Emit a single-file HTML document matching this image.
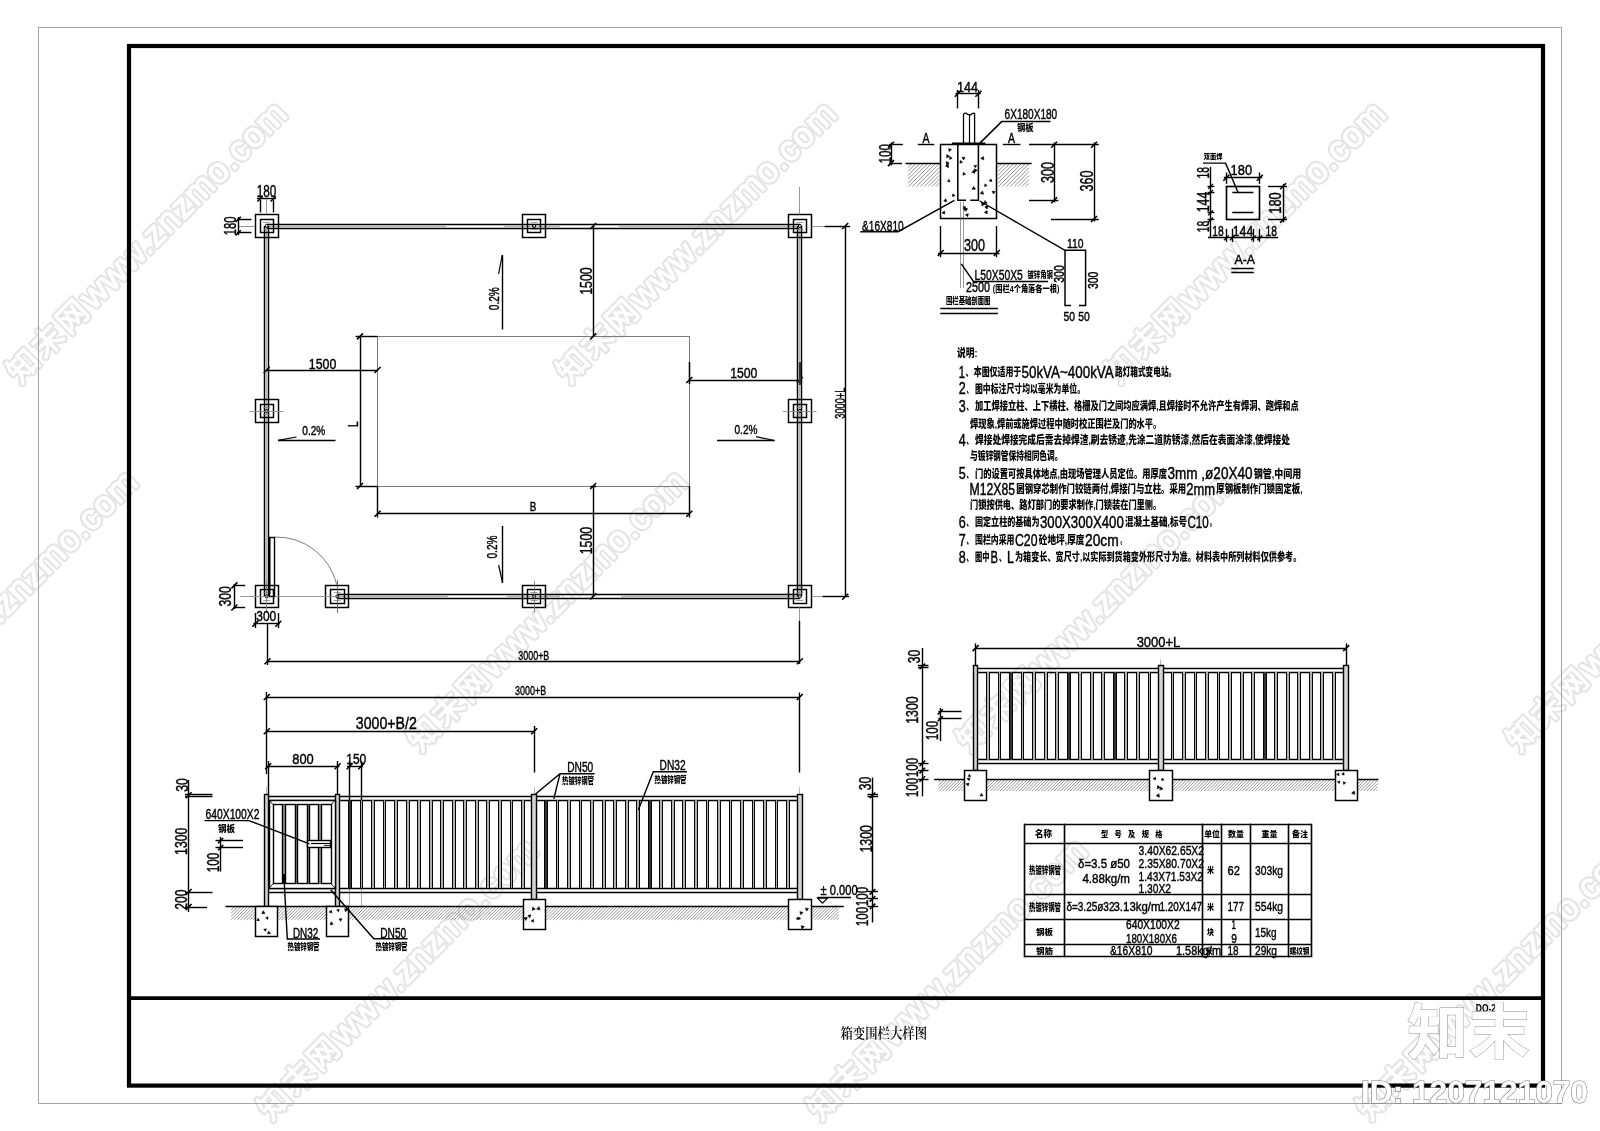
<!DOCTYPE html>
<html lang="zh"><head><meta charset="utf-8"><title>箱变围栏大样图</title>
<style>html,body{margin:0;padding:0;background:#fff}body{width:1600px;height:1131px;overflow:hidden}svg{display:block;will-change:transform}text{white-space:pre}</style>
</head><body>
<svg width="1600" height="1131" viewBox="0 0 1600 1131">
<rect width="1600" height="1131" fill="#fff"/>
<g id="wm" font-family="&quot;Liberation Sans&quot;, &quot;Noto Sans CJK SC&quot;, sans-serif" font-weight="400" stroke-linejoin="round">
<g fill="#e4e4e4" stroke="#e4e4e4" stroke-width="5.2">
<text transform="translate(20 384.4) rotate(-45)"><tspan font-size="31" letter-spacing="3.7">知末网</tspan><tspan font-size="34.7" letter-spacing="1.3">www.znzmo.com</tspan></text>
<text transform="translate(569.5 384.4) rotate(-45)"><tspan font-size="31" letter-spacing="3.7">知末网</tspan><tspan font-size="34.7" letter-spacing="1.3">www.znzmo.com</tspan></text>
<text transform="translate(1119 384.4) rotate(-45)"><tspan font-size="31" letter-spacing="3.7">知末网</tspan><tspan font-size="34.7" letter-spacing="1.3">www.znzmo.com</tspan></text>
<text transform="translate(-129 752.9) rotate(-45)"><tspan font-size="31" letter-spacing="3.7">知末网</tspan><tspan font-size="34.7" letter-spacing="1.3">www.znzmo.com</tspan></text>
<text transform="translate(420.4 752.9) rotate(-45)"><tspan font-size="31" letter-spacing="3.7">知末网</tspan><tspan font-size="34.7" letter-spacing="1.3">www.znzmo.com</tspan></text>
<text transform="translate(970 752.9) rotate(-45)"><tspan font-size="31" letter-spacing="3.7">知末网</tspan><tspan font-size="34.7" letter-spacing="1.3">www.znzmo.com</tspan></text>
<text transform="translate(1519.5 752.9) rotate(-45)"><tspan font-size="31" letter-spacing="3.7">知末网</tspan><tspan font-size="34.7" letter-spacing="1.3">www.znzmo.com</tspan></text>
<text transform="translate(-278.5 1121.4) rotate(-45)"><tspan font-size="31" letter-spacing="3.7">知末网</tspan><tspan font-size="34.7" letter-spacing="1.3">www.znzmo.com</tspan></text>
<text transform="translate(271 1121.4) rotate(-45)"><tspan font-size="31" letter-spacing="3.7">知末网</tspan><tspan font-size="34.7" letter-spacing="1.3">www.znzmo.com</tspan></text>
<text transform="translate(820.5 1121.4) rotate(-45)"><tspan font-size="31" letter-spacing="3.7">知末网</tspan><tspan font-size="34.7" letter-spacing="1.3">www.znzmo.com</tspan></text>
<text transform="translate(1370 1121.4) rotate(-45)"><tspan font-size="31" letter-spacing="3.7">知末网</tspan><tspan font-size="34.7" letter-spacing="1.3">www.znzmo.com</tspan></text>
</g><g fill="#fff" stroke="#fff" stroke-width="1.1">
<text transform="translate(20 384.4) rotate(-45)"><tspan font-size="31" letter-spacing="3.7">知末网</tspan><tspan font-size="34.7" letter-spacing="1.3">www.znzmo.com</tspan></text>
<text transform="translate(569.5 384.4) rotate(-45)"><tspan font-size="31" letter-spacing="3.7">知末网</tspan><tspan font-size="34.7" letter-spacing="1.3">www.znzmo.com</tspan></text>
<text transform="translate(1119 384.4) rotate(-45)"><tspan font-size="31" letter-spacing="3.7">知末网</tspan><tspan font-size="34.7" letter-spacing="1.3">www.znzmo.com</tspan></text>
<text transform="translate(-129 752.9) rotate(-45)"><tspan font-size="31" letter-spacing="3.7">知末网</tspan><tspan font-size="34.7" letter-spacing="1.3">www.znzmo.com</tspan></text>
<text transform="translate(420.4 752.9) rotate(-45)"><tspan font-size="31" letter-spacing="3.7">知末网</tspan><tspan font-size="34.7" letter-spacing="1.3">www.znzmo.com</tspan></text>
<text transform="translate(970 752.9) rotate(-45)"><tspan font-size="31" letter-spacing="3.7">知末网</tspan><tspan font-size="34.7" letter-spacing="1.3">www.znzmo.com</tspan></text>
<text transform="translate(1519.5 752.9) rotate(-45)"><tspan font-size="31" letter-spacing="3.7">知末网</tspan><tspan font-size="34.7" letter-spacing="1.3">www.znzmo.com</tspan></text>
<text transform="translate(-278.5 1121.4) rotate(-45)"><tspan font-size="31" letter-spacing="3.7">知末网</tspan><tspan font-size="34.7" letter-spacing="1.3">www.znzmo.com</tspan></text>
<text transform="translate(271 1121.4) rotate(-45)"><tspan font-size="31" letter-spacing="3.7">知末网</tspan><tspan font-size="34.7" letter-spacing="1.3">www.znzmo.com</tspan></text>
<text transform="translate(820.5 1121.4) rotate(-45)"><tspan font-size="31" letter-spacing="3.7">知末网</tspan><tspan font-size="34.7" letter-spacing="1.3">www.znzmo.com</tspan></text>
<text transform="translate(1370 1121.4) rotate(-45)"><tspan font-size="31" letter-spacing="3.7">知末网</tspan><tspan font-size="34.7" letter-spacing="1.3">www.znzmo.com</tspan></text>
</g></g>
<g id="frame">
<rect x="38.5" y="27.5" width="1523" height="1076" fill="none" stroke="#9a9a9a" stroke-width="0.9"/>
<rect x="129" y="46" width="1414" height="1039.6" fill="none" stroke="#000" stroke-width="4.2"/>
<line x1="129" y1="998.1" x2="1543" y2="998.1" stroke="#000" stroke-width="3.8"/>
</g>
<g id="plan">
<line x1="266.7" y1="224.5" x2="799.8" y2="224.5" stroke="#000" stroke-width="1.47"/>
<line x1="266.7" y1="228.5" x2="799.8" y2="228.5" stroke="#000" stroke-width="1.47"/>
<line x1="266.7" y1="226.5" x2="446" y2="226.5" stroke="#b4b4b4" stroke-width="1.6"/>
<line x1="504" y1="226.5" x2="560" y2="226.5" stroke="#b4b4b4" stroke-width="1.6"/>
<line x1="619" y1="226.5" x2="799.8" y2="226.5" stroke="#b4b4b4" stroke-width="1.6"/>
<line x1="337.3" y1="594.5" x2="799.8" y2="594.5" stroke="#000" stroke-width="1.47"/>
<line x1="337.3" y1="598.5" x2="799.8" y2="598.5" stroke="#000" stroke-width="1.47"/>
<line x1="337.3" y1="596.5" x2="448" y2="596.5" stroke="#b4b4b4" stroke-width="1.6"/>
<line x1="507" y1="596.5" x2="560" y2="596.5" stroke="#b4b4b4" stroke-width="1.6"/>
<line x1="621" y1="596.5" x2="799.8" y2="596.5" stroke="#b4b4b4" stroke-width="1.6"/>
<line x1="264.5" y1="226" x2="264.5" y2="596.4" stroke="#000" stroke-width="1.47"/>
<line x1="268.5" y1="226" x2="268.5" y2="596.4" stroke="#000" stroke-width="1.47"/>
<line x1="266.5" y1="226" x2="266.5" y2="596.4" stroke="#b4b4b4" stroke-width="1.6"/>
<line x1="797.5" y1="226" x2="797.5" y2="596.4" stroke="#000" stroke-width="1.47"/>
<line x1="801.5" y1="226" x2="801.5" y2="596.4" stroke="#000" stroke-width="1.47"/>
<line x1="799.5" y1="226" x2="799.5" y2="596.4" stroke="#b4b4b4" stroke-width="1.6"/>
<rect x="255.5" y="214.5" width="23" height="23" fill="none" stroke="#000" stroke-width="1.47"/>
<rect x="260.5" y="219.5" width="13" height="13" fill="none" stroke="#000" stroke-width="1.47"/>
<circle cx="266.7" cy="226" r="1.6" fill="none" stroke="#000" stroke-width="1"/>
<line x1="263.2" y1="222.5" x2="270.2" y2="222.5" stroke="#777" stroke-width="0.7"/>
<line x1="263.2" y1="229.5" x2="270.2" y2="229.5" stroke="#777" stroke-width="0.7"/>
<rect x="522.5" y="214.5" width="23" height="23" fill="none" stroke="#000" stroke-width="1.47"/>
<rect x="527.5" y="219.5" width="13" height="13" fill="none" stroke="#000" stroke-width="1.47"/>
<circle cx="534.1" cy="226" r="1.6" fill="none" stroke="#000" stroke-width="1"/>
<line x1="530.6" y1="222.5" x2="537.6" y2="222.5" stroke="#777" stroke-width="0.7"/>
<line x1="530.6" y1="229.5" x2="537.6" y2="229.5" stroke="#777" stroke-width="0.7"/>
<rect x="788.5" y="214.5" width="23" height="23" fill="none" stroke="#000" stroke-width="1.47"/>
<rect x="793.5" y="219.5" width="13" height="13" fill="none" stroke="#000" stroke-width="1.47"/>
<circle cx="799.8" cy="226" r="1.6" fill="none" stroke="#000" stroke-width="1"/>
<line x1="796.3" y1="222.5" x2="803.3" y2="222.5" stroke="#777" stroke-width="0.7"/>
<line x1="796.3" y1="229.5" x2="803.3" y2="229.5" stroke="#777" stroke-width="0.7"/>
<rect x="255.5" y="399.5" width="23" height="23" fill="none" stroke="#000" stroke-width="1.47"/>
<rect x="260.5" y="404.5" width="13" height="13" fill="none" stroke="#000" stroke-width="1.47"/>
<circle cx="266.7" cy="411" r="1.6" fill="none" stroke="#000" stroke-width="1"/>
<line x1="263.2" y1="407.5" x2="270.2" y2="407.5" stroke="#777" stroke-width="0.7"/>
<line x1="263.2" y1="414.5" x2="270.2" y2="414.5" stroke="#777" stroke-width="0.7"/>
<rect x="788.5" y="399.5" width="23" height="23" fill="none" stroke="#000" stroke-width="1.47"/>
<rect x="793.5" y="404.5" width="13" height="13" fill="none" stroke="#000" stroke-width="1.47"/>
<circle cx="799.8" cy="411" r="1.6" fill="none" stroke="#000" stroke-width="1"/>
<line x1="796.3" y1="407.5" x2="803.3" y2="407.5" stroke="#777" stroke-width="0.7"/>
<line x1="796.3" y1="414.5" x2="803.3" y2="414.5" stroke="#777" stroke-width="0.7"/>
<rect x="255.5" y="585.5" width="23" height="22" fill="none" stroke="#000" stroke-width="1.47"/>
<rect x="260.5" y="589.5" width="13" height="14" fill="none" stroke="#000" stroke-width="1.47"/>
<circle cx="266.7" cy="596.4" r="1.6" fill="none" stroke="#000" stroke-width="1"/>
<line x1="263.2" y1="592.5" x2="270.2" y2="592.5" stroke="#777" stroke-width="0.7"/>
<line x1="263.2" y1="600.5" x2="270.2" y2="600.5" stroke="#777" stroke-width="0.7"/>
<rect x="325.5" y="585.5" width="23" height="22" fill="none" stroke="#000" stroke-width="1.47"/>
<rect x="330.5" y="589.5" width="14" height="14" fill="none" stroke="#000" stroke-width="1.47"/>
<circle cx="337.3" cy="596.4" r="1.6" fill="none" stroke="#000" stroke-width="1"/>
<line x1="333.8" y1="592.5" x2="340.8" y2="592.5" stroke="#777" stroke-width="0.7"/>
<line x1="333.8" y1="600.5" x2="340.8" y2="600.5" stroke="#777" stroke-width="0.7"/>
<rect x="522.5" y="585.5" width="23" height="22" fill="none" stroke="#000" stroke-width="1.47"/>
<rect x="527.5" y="589.5" width="13" height="14" fill="none" stroke="#000" stroke-width="1.47"/>
<circle cx="534.1" cy="596.4" r="1.6" fill="none" stroke="#000" stroke-width="1"/>
<line x1="530.6" y1="592.5" x2="537.6" y2="592.5" stroke="#777" stroke-width="0.7"/>
<line x1="530.6" y1="600.5" x2="537.6" y2="600.5" stroke="#777" stroke-width="0.7"/>
<rect x="788.5" y="585.5" width="23" height="22" fill="none" stroke="#000" stroke-width="1.47"/>
<rect x="793.5" y="589.5" width="13" height="14" fill="none" stroke="#000" stroke-width="1.47"/>
<circle cx="799.8" cy="596.4" r="1.6" fill="none" stroke="#000" stroke-width="1"/>
<line x1="796.3" y1="592.5" x2="803.3" y2="592.5" stroke="#777" stroke-width="0.7"/>
<line x1="796.3" y1="600.5" x2="803.3" y2="600.5" stroke="#777" stroke-width="0.7"/>
<line x1="249.5" y1="411.5" x2="283.5" y2="411.5" stroke="#8c8c8c" stroke-width="0.9"/>
<line x1="782.8" y1="411.5" x2="816.5" y2="411.5" stroke="#8c8c8c" stroke-width="0.9"/>
<line x1="799.5" y1="187" x2="799.5" y2="214.5" stroke="#8c8c8c" stroke-width="0.9"/>
<line x1="811.5" y1="226.5" x2="824.5" y2="226.5" stroke="#8c8c8c" stroke-width="0.9"/>
<line x1="266.5" y1="199.5" x2="266.5" y2="214" stroke="#8c8c8c" stroke-width="0.9"/>
<line x1="239" y1="226.5" x2="255" y2="226.5" stroke="#8c8c8c" stroke-width="0.9"/>
<line x1="240" y1="596.5" x2="337.3" y2="596.5" stroke="#8c8c8c" stroke-width="0.9"/>
<line x1="337.5" y1="580" x2="337.5" y2="613" stroke="#555" stroke-width="0.8"/>
<line x1="534.5" y1="581" x2="534.5" y2="613" stroke="#777" stroke-width="0.8"/>
<line x1="266.5" y1="581" x2="266.5" y2="613" stroke="#777" stroke-width="0.8"/>
<line x1="799.5" y1="607.5" x2="799.5" y2="621" stroke="#8c8c8c" stroke-width="0.9"/>
<line x1="811.5" y1="596.5" x2="822.5" y2="596.5" stroke="#8c8c8c" stroke-width="0.9"/>
<rect x="377.5" y="336.5" width="312" height="150" fill="none" stroke="#7a7a7a" stroke-width="1"/>
<rect x="269.5" y="537.5" width="5" height="59" fill="none" stroke="#000" stroke-width="1.42"/>
<line x1="269.5" y1="537" x2="269.5" y2="594" stroke="#000" stroke-width="1.8"/>
<path d="M274.9 537 A62 62 0 0 1 336.9 585" fill="none" stroke="#444" stroke-width="0.7"/>
<line x1="257" y1="198.5" x2="276" y2="198.5" stroke="#000" stroke-width="1.42"/>
<line x1="260.5" y1="199.8" x2="260.5" y2="212.4" stroke="#000" stroke-width="1.42"/>
<line x1="273.5" y1="199.8" x2="273.5" y2="212.4" stroke="#000" stroke-width="1.42"/>
<line x1="257.4" y1="201.5" x2="262.6" y2="196.3" stroke="#000" stroke-width="1.59"/>
<line x1="270.6" y1="201.5" x2="275.8" y2="196.3" stroke="#000" stroke-width="1.59"/>
<text x="256.7" y="197.2" font-family="&quot;Liberation Sans&quot;, sans-serif" font-size="15.6" textLength="19.6" lengthAdjust="spacingAndGlyphs" stroke="#000" stroke-width="0.42">180</text>
<line x1="238.5" y1="217" x2="238.5" y2="235" stroke="#000" stroke-width="1.42"/>
<line x1="237" y1="219.5" x2="251.5" y2="219.5" stroke="#000" stroke-width="1.42"/>
<line x1="237" y1="232.5" x2="251.5" y2="232.5" stroke="#000" stroke-width="1.42"/>
<line x1="235.6" y1="222" x2="240.8" y2="216.8" stroke="#000" stroke-width="1.59"/>
<line x1="235.6" y1="235.5" x2="240.8" y2="230.3" stroke="#000" stroke-width="1.59"/>
<text x="0" y="0" transform="translate(236.02 235.3) rotate(-90)" font-family="&quot;Liberation Sans&quot;, sans-serif" font-size="16.51" textLength="18.8" lengthAdjust="spacingAndGlyphs" stroke="#000" stroke-width="0.42">180</text>
<line x1="593.5" y1="226" x2="593.5" y2="336.4" stroke="#000" stroke-width="1.42"/>
<line x1="590.2" y1="229" x2="596.2" y2="223" stroke="#000" stroke-width="1.59"/>
<line x1="590.2" y1="339.4" x2="596.2" y2="333.4" stroke="#000" stroke-width="1.59"/>
<text x="0" y="0" transform="translate(592.29 294.75) rotate(-90)" font-family="&quot;Liberation Sans&quot;, sans-serif" font-size="16.99" textLength="27.5" lengthAdjust="spacingAndGlyphs" stroke="#000" stroke-width="0.42">1500</text>
<line x1="593.5" y1="486" x2="593.5" y2="596.4" stroke="#000" stroke-width="1.42"/>
<line x1="590.2" y1="489" x2="596.2" y2="483" stroke="#000" stroke-width="1.59"/>
<line x1="590.2" y1="599.4" x2="596.2" y2="593.4" stroke="#000" stroke-width="1.59"/>
<line x1="590.2" y1="486.5" x2="596.2" y2="486.5" stroke="#000" stroke-width="1.42"/>
<text x="0" y="0" transform="translate(592.29 554.25) rotate(-90)" font-family="&quot;Liberation Sans&quot;, sans-serif" font-size="16.99" textLength="27.5" lengthAdjust="spacingAndGlyphs" stroke="#000" stroke-width="0.42">1500</text>
<line x1="266.7" y1="370.5" x2="377.5" y2="370.5" stroke="#000" stroke-width="1.42"/>
<line x1="263.7" y1="373" x2="269.7" y2="367" stroke="#000" stroke-width="1.59"/>
<line x1="374.5" y1="373" x2="380.5" y2="367" stroke="#000" stroke-width="1.59"/>
<text x="308.85" y="368.6" font-family="&quot;Liberation Sans&quot;, sans-serif" font-size="15.18" textLength="27.5" lengthAdjust="spacingAndGlyphs" stroke="#000" stroke-width="0.42">1500</text>
<line x1="689.3" y1="380.5" x2="799.8" y2="380.5" stroke="#000" stroke-width="1.42"/>
<line x1="686.3" y1="383" x2="692.3" y2="377" stroke="#000" stroke-width="1.59"/>
<line x1="796.8" y1="383" x2="802.8" y2="377" stroke="#000" stroke-width="1.59"/>
<line x1="689.5" y1="362" x2="689.5" y2="384" stroke="#000" stroke-width="1.53"/>
<line x1="799.9" y1="362" x2="799.9" y2="385" stroke="#333" stroke-width="2.2"/>
<text x="730.15" y="378" font-family="&quot;Liberation Sans&quot;, sans-serif" font-size="15.32" textLength="27.3" lengthAdjust="spacingAndGlyphs" stroke="#000" stroke-width="0.42">1500</text>
<line x1="360.5" y1="336.4" x2="360.5" y2="486" stroke="#000" stroke-width="1.42"/>
<line x1="355.5" y1="336.5" x2="377.5" y2="336.5" stroke="#000" stroke-width="1.42"/>
<line x1="355.5" y1="486.5" x2="377.5" y2="486.5" stroke="#000" stroke-width="1.42"/>
<line x1="357" y1="339.4" x2="363" y2="333.4" stroke="#000" stroke-width="1.59"/>
<line x1="357" y1="489" x2="363" y2="483" stroke="#000" stroke-width="1.59"/>
<text x="0" y="0" transform="translate(358.46 427.05) rotate(-90)" font-family="&quot;Liberation Sans&quot;, sans-serif" font-size="13.78" textLength="5.5" lengthAdjust="spacingAndGlyphs" stroke="#000" stroke-width="0.42">L</text>
<line x1="377.5" y1="513.5" x2="689.3" y2="513.5" stroke="#000" stroke-width="1.42"/>
<line x1="377.5" y1="486" x2="377.5" y2="517.5" stroke="#000" stroke-width="1.42"/>
<line x1="689.5" y1="486" x2="689.5" y2="517.5" stroke="#000" stroke-width="1.42"/>
<line x1="374.5" y1="516.8" x2="380.5" y2="510.8" stroke="#000" stroke-width="1.59"/>
<line x1="686.3" y1="516.8" x2="692.3" y2="510.8" stroke="#000" stroke-width="1.59"/>
<text x="529.7" y="511.2" font-family="&quot;Liberation Sans&quot;, sans-serif" font-size="12.48" textLength="6.6" lengthAdjust="spacingAndGlyphs" stroke="#000" stroke-width="0.42">B</text>
<line x1="502.5" y1="255" x2="502.5" y2="329.5" stroke="#000" stroke-width="1.42"/>
<line x1="502.2" y1="255" x2="498.6" y2="274" stroke="#000" stroke-width="1.18"/>
<text x="0" y="0" transform="translate(499.45 310.2) rotate(-90)" font-family="&quot;Liberation Sans&quot;, sans-serif" font-size="14.91" textLength="23" lengthAdjust="spacingAndGlyphs" stroke="#000" stroke-width="0.42">0.2%</text>
<line x1="502.5" y1="526" x2="502.5" y2="583" stroke="#000" stroke-width="1.42"/>
<line x1="502.6" y1="583" x2="498.6" y2="565" stroke="#000" stroke-width="1.18"/>
<text x="0" y="0" transform="translate(496.55 558.5) rotate(-90)" font-family="&quot;Liberation Sans&quot;, sans-serif" font-size="14.91" textLength="23" lengthAdjust="spacingAndGlyphs" stroke="#000" stroke-width="0.42">0.2%</text>
<line x1="278" y1="440.5" x2="335.5" y2="440.5" stroke="#000" stroke-width="1.42"/>
<line x1="278" y1="440.3" x2="296.5" y2="437" stroke="#000" stroke-width="1.18"/>
<text x="302.3" y="434.5" font-family="&quot;Liberation Sans&quot;, sans-serif" font-size="13.19" textLength="23" lengthAdjust="spacingAndGlyphs" stroke="#000" stroke-width="0.42">0.2%</text>
<line x1="717" y1="440.5" x2="774.5" y2="440.5" stroke="#000" stroke-width="1.42"/>
<line x1="774.5" y1="440.5" x2="756" y2="436.7" stroke="#000" stroke-width="1.18"/>
<text x="734.5" y="434.3" font-family="&quot;Liberation Sans&quot;, sans-serif" font-size="13.19" textLength="23" lengthAdjust="spacingAndGlyphs" stroke="#000" stroke-width="0.42">0.2%</text>
<line x1="234.5" y1="584" x2="234.5" y2="609" stroke="#000" stroke-width="1.42"/>
<line x1="233.6" y1="585.5" x2="245.2" y2="585.5" stroke="#000" stroke-width="1.42"/>
<line x1="233.6" y1="607.5" x2="245.2" y2="607.5" stroke="#000" stroke-width="1.42"/>
<line x1="231.4" y1="588.4" x2="237.4" y2="582.4" stroke="#000" stroke-width="1.59"/>
<line x1="231.4" y1="610.5" x2="237.4" y2="604.5" stroke="#000" stroke-width="1.59"/>
<text x="0" y="0" transform="translate(231.45 606.55) rotate(-90)" font-family="&quot;Liberation Sans&quot;, sans-serif" font-size="16.03" textLength="20.5" lengthAdjust="spacingAndGlyphs" stroke="#000" stroke-width="0.42">300</text>
<line x1="253.5" y1="623.5" x2="280" y2="623.5" stroke="#000" stroke-width="1.42"/>
<line x1="255.5" y1="613" x2="255.5" y2="628" stroke="#000" stroke-width="1.42"/>
<line x1="278.5" y1="613" x2="278.5" y2="628" stroke="#000" stroke-width="1.42"/>
<line x1="252.3" y1="626.8" x2="258.3" y2="620.8" stroke="#000" stroke-width="1.59"/>
<line x1="275.3" y1="626.8" x2="281.3" y2="620.8" stroke="#000" stroke-width="1.59"/>
<text x="256.3" y="621" font-family="&quot;Liberation Sans&quot;, sans-serif" font-size="14.18" textLength="20" lengthAdjust="spacingAndGlyphs" stroke="#000" stroke-width="0.42">300</text>
<line x1="845.5" y1="226" x2="845.5" y2="596.7" stroke="#000" stroke-width="1.42"/>
<line x1="824.5" y1="226.5" x2="850.2" y2="226.5" stroke="#000" stroke-width="1.42"/>
<line x1="822.5" y1="596.5" x2="849" y2="596.5" stroke="#000" stroke-width="1.42"/>
<line x1="842.2" y1="229" x2="848.2" y2="223" stroke="#000" stroke-width="1.59"/>
<line x1="842.2" y1="599.7" x2="848.2" y2="593.7" stroke="#000" stroke-width="1.59"/>
<text x="0" y="0" transform="translate(845.02 418.7) rotate(-90)" font-family="&quot;Liberation Sans&quot;, sans-serif" font-size="15.39" textLength="31" lengthAdjust="spacingAndGlyphs" stroke="#000" stroke-width="0.42">3000+L</text>
<line x1="267.5" y1="661.5" x2="799.8" y2="661.5" stroke="#000" stroke-width="1.42"/>
<line x1="267.5" y1="623" x2="267.5" y2="665" stroke="#000" stroke-width="1.42"/>
<line x1="799.5" y1="621" x2="799.5" y2="664" stroke="#000" stroke-width="1.42"/>
<line x1="264.5" y1="664.3" x2="270.5" y2="658.3" stroke="#000" stroke-width="1.59"/>
<line x1="796.8" y1="664.3" x2="802.8" y2="658.3" stroke="#000" stroke-width="1.59"/>
<text x="518.3" y="660" font-family="&quot;Liberation Sans&quot;, sans-serif" font-size="13.48" textLength="31" lengthAdjust="spacingAndGlyphs" stroke="#000" stroke-width="0.42">3000+B</text>
</g>
<g id="elevL">
<line x1="266.8" y1="697.5" x2="799.8" y2="697.5" stroke="#000" stroke-width="1.42"/>
<line x1="263.8" y1="700" x2="269.8" y2="694" stroke="#000" stroke-width="1.59"/>
<line x1="796.8" y1="700" x2="802.8" y2="694" stroke="#000" stroke-width="1.59"/>
<line x1="266.5" y1="692" x2="266.5" y2="774" stroke="#000" stroke-width="1.42"/>
<line x1="799.5" y1="692.5" x2="799.5" y2="772.5" stroke="#000" stroke-width="1.42"/>
<text x="515.1" y="695.2" font-family="&quot;Liberation Sans&quot;, sans-serif" font-size="13.48" textLength="31" lengthAdjust="spacingAndGlyphs" stroke="#000" stroke-width="0.42">3000+B</text>
<line x1="266.8" y1="731.5" x2="534.2" y2="731.5" stroke="#000" stroke-width="1.42"/>
<line x1="263.8" y1="734.3" x2="269.8" y2="728.3" stroke="#000" stroke-width="1.59"/>
<line x1="531.2" y1="734.3" x2="537.2" y2="728.3" stroke="#000" stroke-width="1.59"/>
<line x1="534.5" y1="726" x2="534.5" y2="772.5" stroke="#000" stroke-width="1.42"/>
<text x="355.8" y="728.8" font-family="&quot;Liberation Sans&quot;, sans-serif" font-size="15.89" textLength="61" lengthAdjust="spacingAndGlyphs" stroke="#000" stroke-width="0.42">3000+B/2</text>
<line x1="266.8" y1="766.5" x2="339.5" y2="766.5" stroke="#000" stroke-width="1.42"/>
<line x1="265.2" y1="769.3" x2="271.2" y2="763.3" stroke="#000" stroke-width="1.59"/>
<line x1="334.6" y1="769.3" x2="340.6" y2="763.3" stroke="#000" stroke-width="1.59"/>
<line x1="268.5" y1="761" x2="268.5" y2="795" stroke="#000" stroke-width="1.42"/>
<line x1="337.5" y1="761" x2="337.5" y2="795" stroke="#000" stroke-width="1.42"/>
<text x="292.25" y="763.8" font-family="&quot;Liberation Sans&quot;, sans-serif" font-size="15.32" textLength="21.5" lengthAdjust="spacingAndGlyphs" stroke="#000" stroke-width="0.42">800</text>
<line x1="347" y1="766.5" x2="363" y2="766.5" stroke="#000" stroke-width="1.42"/>
<line x1="346.6" y1="769.3" x2="352.6" y2="763.3" stroke="#000" stroke-width="1.59"/>
<line x1="358.3" y1="769.3" x2="364.3" y2="763.3" stroke="#000" stroke-width="1.59"/>
<line x1="349.5" y1="761" x2="349.5" y2="800" stroke="#000" stroke-width="1.42"/>
<line x1="361.5" y1="761" x2="361.5" y2="800" stroke="#000" stroke-width="1.42"/>
<line x1="349.5" y1="888" x2="349.5" y2="906" stroke="#888" stroke-width="0.7"/>
<line x1="361.5" y1="888" x2="361.5" y2="906" stroke="#888" stroke-width="0.7"/>
<text x="346.3" y="763.8" font-family="&quot;Liberation Sans&quot;, sans-serif" font-size="15.32" textLength="20" lengthAdjust="spacingAndGlyphs" stroke="#000" stroke-width="0.42">150</text>
<line x1="266.5" y1="787" x2="266.5" y2="794" stroke="#999" stroke-width="0.7"/>
<line x1="534.5" y1="787" x2="534.5" y2="794" stroke="#999" stroke-width="0.7"/>
<line x1="799.5" y1="787" x2="799.5" y2="794" stroke="#999" stroke-width="0.7"/>
<path d="M231 910.19L234.19 907M231 913.38L237.38 907M231 916.57L240.57 907M231 919.76L243.76 907M234.15 919.8L246.95 907M237.34 919.8L250.14 907M240.53 919.8L253.33 907M243.72 919.8L256.52 907M246.91 919.8L259.71 907M250.1 919.8L262.9 907M253.29 919.8L266.09 907M256.48 919.8L269.28 907M259.67 919.8L272.47 907M262.86 919.8L275.66 907M266.05 919.8L278.85 907M269.24 919.8L282.04 907M272.43 919.8L285.23 907M275.62 919.8L288.42 907M278.81 919.8L291.61 907M282 919.8L294.8 907M285.19 919.8L297.99 907M288.38 919.8L301.18 907M291.57 919.8L304.37 907M294.76 919.8L307.56 907M297.95 919.8L310.75 907M301.14 919.8L313.94 907M304.33 919.8L317.13 907M307.52 919.8L320.32 907M310.71 919.8L323.51 907M313.9 919.8L326.7 907M317.09 919.8L329.89 907M320.28 919.8L333.08 907M323.47 919.8L336.27 907M326.66 919.8L339.46 907M329.85 919.8L342.65 907M333.04 919.8L345.84 907M336.23 919.8L349.03 907M339.42 919.8L352.22 907M342.61 919.8L355.41 907M345.8 919.8L358.6 907M348.99 919.8L361.79 907M352.18 919.8L364.98 907M355.37 919.8L368.17 907M358.56 919.8L371.36 907M361.75 919.8L374.55 907M364.94 919.8L377.74 907M368.13 919.8L380.93 907M371.32 919.8L384.12 907M374.51 919.8L387.31 907M377.7 919.8L390.5 907M380.89 919.8L393.69 907M384.08 919.8L396.88 907M387.27 919.8L400.07 907M390.46 919.8L403.26 907M393.65 919.8L406.45 907M396.84 919.8L409.64 907M400.03 919.8L412.83 907M403.22 919.8L416.02 907M406.41 919.8L419.21 907M409.6 919.8L422.4 907M412.79 919.8L425.59 907M415.98 919.8L428.78 907M419.17 919.8L431.97 907M422.36 919.8L435.16 907M425.55 919.8L438.35 907M428.74 919.8L441.54 907M431.93 919.8L444.73 907M435.12 919.8L447.92 907M438.31 919.8L451.11 907M441.5 919.8L454.3 907M444.69 919.8L457.49 907M447.88 919.8L460.68 907M451.07 919.8L463.87 907M454.26 919.8L467.06 907M457.45 919.8L470.25 907M460.64 919.8L473.44 907M463.83 919.8L476.63 907M467.02 919.8L479.82 907M470.21 919.8L483.01 907M473.4 919.8L486.2 907M476.59 919.8L489.39 907M479.78 919.8L492.58 907M482.97 919.8L495.77 907M486.16 919.8L498.96 907M489.35 919.8L502.15 907M492.54 919.8L505.34 907M495.73 919.8L508.53 907M498.92 919.8L511.72 907M502.11 919.8L514.91 907M505.3 919.8L518.1 907M508.49 919.8L521.29 907M511.68 919.8L524.48 907M514.87 919.8L527.67 907M518.06 919.8L530.86 907M521.25 919.8L534.05 907M524.44 919.8L537.24 907M527.63 919.8L540.43 907M530.82 919.8L543.62 907M534.01 919.8L546.81 907M537.2 919.8L550 907M540.39 919.8L553.19 907M543.58 919.8L556.38 907M546.77 919.8L559.57 907M549.96 919.8L562.76 907M553.15 919.8L565.95 907M556.34 919.8L569.14 907M559.53 919.8L572.33 907M562.72 919.8L575.52 907M565.91 919.8L578.71 907M569.1 919.8L581.9 907M572.29 919.8L585.09 907M575.48 919.8L588.28 907M578.67 919.8L591.47 907M581.86 919.8L594.66 907M585.05 919.8L597.85 907M588.24 919.8L601.04 907M591.43 919.8L604.23 907M594.62 919.8L607.42 907M597.81 919.8L610.61 907M601 919.8L613.8 907M604.19 919.8L616.99 907M607.38 919.8L620.18 907M610.57 919.8L623.37 907M613.76 919.8L626.56 907M616.95 919.8L629.75 907M620.14 919.8L632.94 907M623.33 919.8L636.13 907M626.52 919.8L639.32 907M629.71 919.8L642.51 907M632.9 919.8L645.7 907M636.09 919.8L648.89 907M639.28 919.8L652.08 907M642.47 919.8L655.27 907M645.66 919.8L658.46 907M648.85 919.8L661.65 907M652.04 919.8L664.84 907M655.23 919.8L668.03 907M658.42 919.8L671.22 907M661.61 919.8L674.41 907M664.8 919.8L677.6 907M667.99 919.8L680.79 907M671.18 919.8L683.98 907M674.37 919.8L687.17 907M677.56 919.8L690.36 907M680.75 919.8L693.55 907M683.94 919.8L696.74 907M687.13 919.8L699.93 907M690.32 919.8L703.12 907M693.51 919.8L706.31 907M696.7 919.8L709.5 907M699.89 919.8L712.69 907M703.08 919.8L715.88 907M706.27 919.8L719.07 907M709.46 919.8L722.26 907M712.65 919.8L725.45 907M715.84 919.8L728.64 907M719.03 919.8L731.83 907M722.22 919.8L735.02 907M725.41 919.8L738.21 907M728.6 919.8L741.4 907M731.79 919.8L744.59 907M734.98 919.8L747.78 907M738.17 919.8L750.97 907M741.36 919.8L754.16 907M744.55 919.8L757.35 907M747.74 919.8L760.54 907M750.93 919.8L763.73 907M754.12 919.8L766.92 907M757.31 919.8L770.11 907M760.5 919.8L773.3 907M763.69 919.8L776.49 907M766.88 919.8L779.68 907M770.07 919.8L782.87 907M773.26 919.8L786.06 907M776.45 919.8L789.25 907M779.64 919.8L792.44 907M782.83 919.8L795.63 907M786.02 919.8L798.82 907M789.21 919.8L802.01 907M792.4 919.8L805.2 907M795.59 919.8L808.39 907M798.78 919.8L811.58 907M801.97 919.8L814.77 907M805.16 919.8L817.96 907M808.35 919.8L821.15 907M811.54 919.8L824.34 907M814.73 919.8L827.53 907M817.92 919.8L830.72 907M821.11 919.8L833.91 907M824.3 919.8L837.1 907M827.49 919.8L839 908.29M830.68 919.8L839 911.48M833.87 919.8L839 914.67M837.06 919.8L839 917.86" fill="none" stroke="#606060" stroke-width="0.68"/>
<line x1="225.5" y1="906.5" x2="843.8" y2="906.5" stroke="#000" stroke-width="1.47"/>
<line x1="268.4" y1="796.5" x2="797.6" y2="796.5" stroke="#000" stroke-width="1.47"/>
<line x1="268.4" y1="800.5" x2="797.6" y2="800.5" stroke="#000" stroke-width="1.47"/>
<line x1="268.4" y1="888.5" x2="797.6" y2="888.5" stroke="#000" stroke-width="1.47"/>
<line x1="268.4" y1="892.5" x2="797.6" y2="892.5" stroke="#000" stroke-width="1.47"/>
<line x1="350" y1="800.2" x2="350" y2="888" stroke="#333" stroke-width="3"/>
<line x1="348.5" y1="800.2" x2="348.5" y2="888" stroke="#000" stroke-width="0.98"/>
<line x1="351.5" y1="800.2" x2="351.5" y2="888" stroke="#000" stroke-width="0.98"/>
<line x1="361.5" y1="800.2" x2="361.5" y2="888" stroke="#b0b0b0" stroke-width="2"/>
<line x1="360.5" y1="800.2" x2="360.5" y2="888" stroke="#000" stroke-width="0.98"/>
<line x1="362.5" y1="800.2" x2="362.5" y2="888" stroke="#000" stroke-width="0.98"/>
<line x1="373" y1="800.2" x2="373" y2="888" stroke="#b0b0b0" stroke-width="3"/>
<line x1="371.5" y1="800.2" x2="371.5" y2="888" stroke="#000" stroke-width="0.98"/>
<line x1="374.5" y1="800.2" x2="374.5" y2="888" stroke="#000" stroke-width="0.98"/>
<line x1="384.5" y1="800.2" x2="384.5" y2="888" stroke="#b0b0b0" stroke-width="2"/>
<line x1="383.5" y1="800.2" x2="383.5" y2="888" stroke="#000" stroke-width="0.98"/>
<line x1="385.5" y1="800.2" x2="385.5" y2="888" stroke="#000" stroke-width="0.98"/>
<line x1="396" y1="800.2" x2="396" y2="888" stroke="#b0b0b0" stroke-width="3"/>
<line x1="394.5" y1="800.2" x2="394.5" y2="888" stroke="#000" stroke-width="0.98"/>
<line x1="397.5" y1="800.2" x2="397.5" y2="888" stroke="#000" stroke-width="0.98"/>
<line x1="408" y1="800.2" x2="408" y2="888" stroke="#b0b0b0" stroke-width="3"/>
<line x1="406.5" y1="800.2" x2="406.5" y2="888" stroke="#000" stroke-width="0.98"/>
<line x1="409.5" y1="800.2" x2="409.5" y2="888" stroke="#000" stroke-width="0.98"/>
<line x1="419" y1="800.2" x2="419" y2="888" stroke="#b0b0b0" stroke-width="3"/>
<line x1="417.5" y1="800.2" x2="417.5" y2="888" stroke="#000" stroke-width="0.98"/>
<line x1="420.5" y1="800.2" x2="420.5" y2="888" stroke="#000" stroke-width="0.98"/>
<line x1="431" y1="800.2" x2="431" y2="888" stroke="#b0b0b0" stroke-width="3"/>
<line x1="429.5" y1="800.2" x2="429.5" y2="888" stroke="#000" stroke-width="0.98"/>
<line x1="432.5" y1="800.2" x2="432.5" y2="888" stroke="#000" stroke-width="0.98"/>
<line x1="442" y1="800.2" x2="442" y2="888" stroke="#b0b0b0" stroke-width="3"/>
<line x1="440.5" y1="800.2" x2="440.5" y2="888" stroke="#000" stroke-width="0.98"/>
<line x1="443.5" y1="800.2" x2="443.5" y2="888" stroke="#000" stroke-width="0.98"/>
<line x1="454" y1="800.2" x2="454" y2="888" stroke="#b0b0b0" stroke-width="3"/>
<line x1="452.5" y1="800.2" x2="452.5" y2="888" stroke="#000" stroke-width="0.98"/>
<line x1="455.5" y1="800.2" x2="455.5" y2="888" stroke="#000" stroke-width="0.98"/>
<line x1="465" y1="800.2" x2="465" y2="888" stroke="#b0b0b0" stroke-width="3"/>
<line x1="463.5" y1="800.2" x2="463.5" y2="888" stroke="#000" stroke-width="0.98"/>
<line x1="466.5" y1="800.2" x2="466.5" y2="888" stroke="#000" stroke-width="0.98"/>
<line x1="477" y1="800.2" x2="477" y2="888" stroke="#b0b0b0" stroke-width="3"/>
<line x1="475.5" y1="800.2" x2="475.5" y2="888" stroke="#000" stroke-width="0.98"/>
<line x1="478.5" y1="800.2" x2="478.5" y2="888" stroke="#000" stroke-width="0.98"/>
<line x1="488" y1="800.2" x2="488" y2="888" stroke="#b0b0b0" stroke-width="3"/>
<line x1="486.5" y1="800.2" x2="486.5" y2="888" stroke="#000" stroke-width="0.98"/>
<line x1="489.5" y1="800.2" x2="489.5" y2="888" stroke="#000" stroke-width="0.98"/>
<line x1="500" y1="800.2" x2="500" y2="888" stroke="#b0b0b0" stroke-width="3"/>
<line x1="498.5" y1="800.2" x2="498.5" y2="888" stroke="#000" stroke-width="0.98"/>
<line x1="501.5" y1="800.2" x2="501.5" y2="888" stroke="#000" stroke-width="0.98"/>
<line x1="511.5" y1="800.2" x2="511.5" y2="888" stroke="#b0b0b0" stroke-width="2"/>
<line x1="510.5" y1="800.2" x2="510.5" y2="888" stroke="#000" stroke-width="0.98"/>
<line x1="512.5" y1="800.2" x2="512.5" y2="888" stroke="#000" stroke-width="0.98"/>
<line x1="523" y1="800.2" x2="523" y2="888" stroke="#b0b0b0" stroke-width="3"/>
<line x1="521.5" y1="800.2" x2="521.5" y2="888" stroke="#000" stroke-width="0.98"/>
<line x1="524.5" y1="800.2" x2="524.5" y2="888" stroke="#000" stroke-width="0.98"/>
<line x1="546" y1="800.2" x2="546" y2="888" stroke="#333" stroke-width="3"/>
<line x1="544.5" y1="800.2" x2="544.5" y2="888" stroke="#000" stroke-width="0.98"/>
<line x1="547.5" y1="800.2" x2="547.5" y2="888" stroke="#000" stroke-width="0.98"/>
<line x1="557.5" y1="800.2" x2="557.5" y2="888" stroke="#b0b0b0" stroke-width="2"/>
<line x1="556.5" y1="800.2" x2="556.5" y2="888" stroke="#000" stroke-width="0.98"/>
<line x1="558.5" y1="800.2" x2="558.5" y2="888" stroke="#000" stroke-width="0.98"/>
<line x1="569" y1="800.2" x2="569" y2="888" stroke="#b0b0b0" stroke-width="3"/>
<line x1="567.5" y1="800.2" x2="567.5" y2="888" stroke="#000" stroke-width="0.98"/>
<line x1="570.5" y1="800.2" x2="570.5" y2="888" stroke="#000" stroke-width="0.98"/>
<line x1="580.5" y1="800.2" x2="580.5" y2="888" stroke="#b0b0b0" stroke-width="2"/>
<line x1="579.5" y1="800.2" x2="579.5" y2="888" stroke="#000" stroke-width="0.98"/>
<line x1="581.5" y1="800.2" x2="581.5" y2="888" stroke="#000" stroke-width="0.98"/>
<line x1="592" y1="800.2" x2="592" y2="888" stroke="#b0b0b0" stroke-width="3"/>
<line x1="590.5" y1="800.2" x2="590.5" y2="888" stroke="#000" stroke-width="0.98"/>
<line x1="593.5" y1="800.2" x2="593.5" y2="888" stroke="#000" stroke-width="0.98"/>
<line x1="604" y1="800.2" x2="604" y2="888" stroke="#b0b0b0" stroke-width="3"/>
<line x1="602.5" y1="800.2" x2="602.5" y2="888" stroke="#000" stroke-width="0.98"/>
<line x1="605.5" y1="800.2" x2="605.5" y2="888" stroke="#000" stroke-width="0.98"/>
<line x1="615" y1="800.2" x2="615" y2="888" stroke="#b0b0b0" stroke-width="3"/>
<line x1="613.5" y1="800.2" x2="613.5" y2="888" stroke="#000" stroke-width="0.98"/>
<line x1="616.5" y1="800.2" x2="616.5" y2="888" stroke="#000" stroke-width="0.98"/>
<line x1="627" y1="800.2" x2="627" y2="888" stroke="#b0b0b0" stroke-width="3"/>
<line x1="625.5" y1="800.2" x2="625.5" y2="888" stroke="#000" stroke-width="0.98"/>
<line x1="628.5" y1="800.2" x2="628.5" y2="888" stroke="#000" stroke-width="0.98"/>
<line x1="638" y1="800.2" x2="638" y2="888" stroke="#b0b0b0" stroke-width="3"/>
<line x1="636.5" y1="800.2" x2="636.5" y2="888" stroke="#000" stroke-width="0.98"/>
<line x1="639.5" y1="800.2" x2="639.5" y2="888" stroke="#000" stroke-width="0.98"/>
<line x1="650" y1="800.2" x2="650" y2="888" stroke="#333" stroke-width="3"/>
<line x1="648.5" y1="800.2" x2="648.5" y2="888" stroke="#000" stroke-width="0.98"/>
<line x1="651.5" y1="800.2" x2="651.5" y2="888" stroke="#000" stroke-width="0.98"/>
<line x1="661" y1="800.2" x2="661" y2="888" stroke="#b0b0b0" stroke-width="3"/>
<line x1="659.5" y1="800.2" x2="659.5" y2="888" stroke="#000" stroke-width="0.98"/>
<line x1="662.5" y1="800.2" x2="662.5" y2="888" stroke="#000" stroke-width="0.98"/>
<line x1="673" y1="800.2" x2="673" y2="888" stroke="#b0b0b0" stroke-width="3"/>
<line x1="671.5" y1="800.2" x2="671.5" y2="888" stroke="#000" stroke-width="0.98"/>
<line x1="674.5" y1="800.2" x2="674.5" y2="888" stroke="#000" stroke-width="0.98"/>
<line x1="684" y1="800.2" x2="684" y2="888" stroke="#b0b0b0" stroke-width="3"/>
<line x1="682.5" y1="800.2" x2="682.5" y2="888" stroke="#000" stroke-width="0.98"/>
<line x1="685.5" y1="800.2" x2="685.5" y2="888" stroke="#000" stroke-width="0.98"/>
<line x1="696" y1="800.2" x2="696" y2="888" stroke="#b0b0b0" stroke-width="3"/>
<line x1="694.5" y1="800.2" x2="694.5" y2="888" stroke="#000" stroke-width="0.98"/>
<line x1="697.5" y1="800.2" x2="697.5" y2="888" stroke="#000" stroke-width="0.98"/>
<line x1="707.5" y1="800.2" x2="707.5" y2="888" stroke="#b0b0b0" stroke-width="2"/>
<line x1="706.5" y1="800.2" x2="706.5" y2="888" stroke="#000" stroke-width="0.98"/>
<line x1="708.5" y1="800.2" x2="708.5" y2="888" stroke="#000" stroke-width="0.98"/>
<line x1="719" y1="800.2" x2="719" y2="888" stroke="#b0b0b0" stroke-width="3"/>
<line x1="717.5" y1="800.2" x2="717.5" y2="888" stroke="#000" stroke-width="0.98"/>
<line x1="720.5" y1="800.2" x2="720.5" y2="888" stroke="#000" stroke-width="0.98"/>
<line x1="730.5" y1="800.2" x2="730.5" y2="888" stroke="#b0b0b0" stroke-width="2"/>
<line x1="729.5" y1="800.2" x2="729.5" y2="888" stroke="#000" stroke-width="0.98"/>
<line x1="731.5" y1="800.2" x2="731.5" y2="888" stroke="#000" stroke-width="0.98"/>
<line x1="742" y1="800.2" x2="742" y2="888" stroke="#b0b0b0" stroke-width="3"/>
<line x1="740.5" y1="800.2" x2="740.5" y2="888" stroke="#000" stroke-width="0.98"/>
<line x1="743.5" y1="800.2" x2="743.5" y2="888" stroke="#000" stroke-width="0.98"/>
<line x1="753.5" y1="800.2" x2="753.5" y2="888" stroke="#b0b0b0" stroke-width="2"/>
<line x1="752.5" y1="800.2" x2="752.5" y2="888" stroke="#000" stroke-width="0.98"/>
<line x1="754.5" y1="800.2" x2="754.5" y2="888" stroke="#000" stroke-width="0.98"/>
<line x1="765" y1="800.2" x2="765" y2="888" stroke="#b0b0b0" stroke-width="3"/>
<line x1="763.5" y1="800.2" x2="763.5" y2="888" stroke="#000" stroke-width="0.98"/>
<line x1="766.5" y1="800.2" x2="766.5" y2="888" stroke="#000" stroke-width="0.98"/>
<line x1="776.5" y1="800.2" x2="776.5" y2="888" stroke="#b0b0b0" stroke-width="2"/>
<line x1="775.5" y1="800.2" x2="775.5" y2="888" stroke="#000" stroke-width="0.98"/>
<line x1="777.5" y1="800.2" x2="777.5" y2="888" stroke="#000" stroke-width="0.98"/>
<line x1="788" y1="800.2" x2="788" y2="888" stroke="#b0b0b0" stroke-width="3"/>
<line x1="786.5" y1="800.2" x2="786.5" y2="888" stroke="#000" stroke-width="0.98"/>
<line x1="789.5" y1="800.2" x2="789.5" y2="888" stroke="#000" stroke-width="0.98"/>
<rect x="264.5" y="794.5" width="4" height="112" fill="#d4d4d4" stroke="#000" stroke-width="1.42"/>
<rect x="335.5" y="794.5" width="4" height="112" fill="#d4d4d4" stroke="#000" stroke-width="1.42"/>
<rect x="531.5" y="794.5" width="5" height="105" fill="#d4d4d4" stroke="#000" stroke-width="1.42"/>
<rect x="797.5" y="794.5" width="5" height="105" fill="#d4d4d4" stroke="#000" stroke-width="1.42"/>
<rect x="269.5" y="800.5" width="66" height="88" fill="#fff" stroke="#000" stroke-width="1.42"/>
<rect x="273.5" y="804.5" width="58" height="79" fill="none" stroke="#000" stroke-width="1.42"/>
<line x1="269.3" y1="800.2" x2="273" y2="804.6" stroke="#000" stroke-width="0.9"/>
<line x1="335" y1="800.2" x2="331.2" y2="804.6" stroke="#000" stroke-width="0.9"/>
<line x1="269.3" y1="888" x2="273" y2="883.8" stroke="#000" stroke-width="0.9"/>
<line x1="335" y1="888" x2="331.2" y2="883.8" stroke="#000" stroke-width="0.9"/>
<line x1="283.8" y1="804.6" x2="283.8" y2="883.8" stroke="#a0a0a0" stroke-width="2.4"/>
<line x1="282.5" y1="804.6" x2="282.5" y2="883.8" stroke="#000" stroke-width="1.42"/>
<line x1="285.5" y1="804.6" x2="285.5" y2="883.8" stroke="#000" stroke-width="1.42"/>
<line x1="296.3" y1="804.6" x2="296.3" y2="883.8" stroke="#a0a0a0" stroke-width="2.4"/>
<line x1="295.5" y1="804.6" x2="295.5" y2="883.8" stroke="#000" stroke-width="1.42"/>
<line x1="297.5" y1="804.6" x2="297.5" y2="883.8" stroke="#000" stroke-width="1.42"/>
<line x1="308.3" y1="804.6" x2="308.3" y2="883.8" stroke="#a0a0a0" stroke-width="2.4"/>
<line x1="307.5" y1="804.6" x2="307.5" y2="883.8" stroke="#000" stroke-width="1.42"/>
<line x1="309.5" y1="804.6" x2="309.5" y2="883.8" stroke="#000" stroke-width="1.42"/>
<line x1="319.9" y1="804.6" x2="319.9" y2="883.8" stroke="#a0a0a0" stroke-width="2.4"/>
<line x1="318.5" y1="804.6" x2="318.5" y2="883.8" stroke="#000" stroke-width="1.42"/>
<line x1="321.5" y1="804.6" x2="321.5" y2="883.8" stroke="#000" stroke-width="1.42"/>
<line x1="283.8" y1="874" x2="283.8" y2="883.5" stroke="#000" stroke-width="2.6"/>
<rect x="307.5" y="840.5" width="23" height="7" fill="#fff" stroke="#000" stroke-width="1.42"/>
<line x1="311" y1="843.5" x2="330" y2="843.5" stroke="#000" stroke-width="1.18"/>
<line x1="324" y1="845.5" x2="330" y2="845.5" stroke="#000" stroke-width="0.8"/>
<rect x="255.5" y="906.5" width="22" height="30" fill="#fff" stroke="#000" stroke-width="1.47"/>
<path d="M264.97 913.43L261.81 913.65L263.2 910.81Z" fill="#000" stroke="#000" stroke-width="0.6" stroke-linejoin="round"/>
<path d="M265.68 918.02L268.03 916.8L267.91 919.45Z" fill="#000" stroke="#000" stroke-width="0.6" stroke-linejoin="round"/>
<path d="M259.38 920.64L256.72 920.52L258.16 918.28Z" fill="#000" stroke="#000" stroke-width="0.6" stroke-linejoin="round"/>
<path d="M265.43 931.34L263.7 929.26L266.37 928.8Z" fill="#000" stroke="#000" stroke-width="0.6" stroke-linejoin="round"/>
<path d="M267.46 933.95L268.66 931.1L270.53 933.56Z" fill="#000" stroke="#000" stroke-width="0.6" stroke-linejoin="round"/>
<rect x="326.5" y="906.5" width="22" height="30" fill="#fff" stroke="#000" stroke-width="1.47"/>
<path d="M345.49 911.85L344.58 908.64L347.82 909.46Z" fill="#000" stroke="#000" stroke-width="0.6" stroke-linejoin="round"/>
<path d="M331.49 910.28L331.81 913.12L329.18 911.98Z" fill="#000" stroke="#000" stroke-width="0.6" stroke-linejoin="round"/>
<path d="M330.23 924.88L330.99 921.82L333.26 924.01Z" fill="#000" stroke="#000" stroke-width="0.6" stroke-linejoin="round"/>
<path d="M338.59 911.87L336.69 910.02L339.23 909.3Z" fill="#000" stroke="#000" stroke-width="0.6" stroke-linejoin="round"/>
<path d="M339.16 918.81L342.03 918.85L340.56 921.32Z" fill="#000" stroke="#000" stroke-width="0.6" stroke-linejoin="round"/>
<rect x="523.5" y="899.5" width="22" height="30" fill="#fff" stroke="#000" stroke-width="1.47"/>
<path d="M532.83 907.05L535.29 909.23L532.17 910.28Z" fill="#000" stroke="#000" stroke-width="0.6" stroke-linejoin="round"/>
<path d="M530.78 914.8L530 917.75L527.84 915.6Z" fill="#000" stroke="#000" stroke-width="0.6" stroke-linejoin="round"/>
<path d="M540.04 909.89L536.67 909.14L539 906.6Z" fill="#000" stroke="#000" stroke-width="0.6" stroke-linejoin="round"/>
<path d="M531.21 920.95L533.47 919.42L533.66 922.14Z" fill="#000" stroke="#000" stroke-width="0.6" stroke-linejoin="round"/>
<path d="M524.04 917.68L527.29 917.46L525.86 920.39Z" fill="#000" stroke="#000" stroke-width="0.6" stroke-linejoin="round"/>
<rect x="788.5" y="899.5" width="23" height="30" fill="#fff" stroke="#000" stroke-width="1.47"/>
<path d="M805.31 908.19L808.5 908.41L806.72 911.06Z" fill="#000" stroke="#000" stroke-width="0.6" stroke-linejoin="round"/>
<path d="M803.06 912.29L800.93 914.84L799.79 911.72Z" fill="#000" stroke="#000" stroke-width="0.6" stroke-linejoin="round"/>
<path d="M798.8 916.94L800.76 918.73L798.23 919.53Z" fill="#000" stroke="#000" stroke-width="0.6" stroke-linejoin="round"/>
<path d="M802.12 928.89L801.12 925.73L804.35 926.44Z" fill="#000" stroke="#000" stroke-width="0.6" stroke-linejoin="round"/>
<path d="M796.12 918.88L798.01 917.07L798.64 919.61Z" fill="#000" stroke="#000" stroke-width="0.6" stroke-linejoin="round"/>
<line x1="188.5" y1="780" x2="188.5" y2="912" stroke="#000" stroke-width="1.42"/>
<line x1="185" y1="794.5" x2="212.5" y2="794.5" stroke="#000" stroke-width="1.42"/>
<line x1="185" y1="796.5" x2="212.5" y2="796.5" stroke="#000" stroke-width="1.42"/>
<line x1="185" y1="892.5" x2="212.5" y2="892.5" stroke="#000" stroke-width="1.42"/>
<line x1="185" y1="907.5" x2="207" y2="907.5" stroke="#000" stroke-width="1.42"/>
<line x1="185.6" y1="798.2" x2="191.6" y2="792.2" stroke="#000" stroke-width="1.59"/>
<line x1="185.6" y1="895" x2="191.6" y2="889" stroke="#000" stroke-width="1.59"/>
<line x1="185.6" y1="910" x2="191.6" y2="904" stroke="#000" stroke-width="1.59"/>
<text x="0" y="0" transform="translate(187.62 791.8) rotate(-90)" font-family="&quot;Liberation Sans&quot;, sans-serif" font-size="16.51" textLength="13.6" lengthAdjust="spacingAndGlyphs" stroke="#000" stroke-width="0.42">30</text>
<text x="0" y="0" transform="translate(187.13 854.9) rotate(-90)" font-family="&quot;Liberation Sans&quot;, sans-serif" font-size="16.83" textLength="27.2" lengthAdjust="spacingAndGlyphs" stroke="#000" stroke-width="0.42">1300</text>
<text x="0" y="0" transform="translate(187.18 909.85) rotate(-90)" font-family="&quot;Liberation Sans&quot;, sans-serif" font-size="16.67" textLength="20.5" lengthAdjust="spacingAndGlyphs" stroke="#000" stroke-width="0.42">200</text>
<line x1="220.5" y1="837" x2="220.5" y2="871.5" stroke="#000" stroke-width="1.42"/>
<line x1="215.5" y1="840.5" x2="243" y2="840.5" stroke="#000" stroke-width="1.42"/>
<line x1="215.5" y1="847.5" x2="243" y2="847.5" stroke="#000" stroke-width="1.42"/>
<line x1="218" y1="843.2" x2="223.2" y2="838" stroke="#000" stroke-width="1.59"/>
<line x1="218" y1="850.2" x2="223.2" y2="845" stroke="#000" stroke-width="1.59"/>
<text x="0" y="0" transform="translate(219.15 872.2) rotate(-90)" font-family="&quot;Liberation Sans&quot;, sans-serif" font-size="16.03" textLength="19.4" lengthAdjust="spacingAndGlyphs" stroke="#000" stroke-width="0.42">100</text>
<text x="205.5" y="818.5" font-family="&quot;Liberation Sans&quot;, sans-serif" font-size="14.5" textLength="54" lengthAdjust="spacingAndGlyphs" stroke="#000" stroke-width="0.42">640X100X2</text>
<path d="M204.5 820.6 L248.8 820.6 L309.5 843.8" fill="none" stroke="#000" stroke-width="1.42"/>
<text x="218" y="831.6" font-family="&quot;Liberation Sans&quot;, &quot;Noto Sans CJK SC&quot;, sans-serif" font-size="9.4" font-weight="900" textLength="17" lengthAdjust="spacingAndGlyphs">钢板</text>
<text x="292.9" y="937.7" font-family="&quot;Liberation Sans&quot;, sans-serif" font-size="13.8" textLength="25.5" lengthAdjust="spacingAndGlyphs" stroke="#000" stroke-width="0.42">DN32</text>
<path d="M320 939 L287.3 939 L283.8 874" fill="none" stroke="#000" stroke-width="1.42"/>
<text x="287.5" y="950.2" font-family="&quot;Liberation Sans&quot;, &quot;Noto Sans CJK SC&quot;, sans-serif" font-size="9.4" font-weight="900" textLength="32" lengthAdjust="spacingAndGlyphs">热镀锌钢管</text>
<text x="380.2" y="937.5" font-family="&quot;Liberation Sans&quot;, sans-serif" font-size="14" textLength="26" lengthAdjust="spacingAndGlyphs" stroke="#000" stroke-width="0.42">DN50</text>
<path d="M407.5 938.8 L373.8 938.8 L330.8 890" fill="none" stroke="#000" stroke-width="1.42"/>
<text x="375.5" y="950.2" font-family="&quot;Liberation Sans&quot;, &quot;Noto Sans CJK SC&quot;, sans-serif" font-size="9.4" font-weight="900" textLength="32" lengthAdjust="spacingAndGlyphs">热镀锌钢管</text>
<text x="567.2" y="772" font-family="&quot;Liberation Sans&quot;, sans-serif" font-size="14" textLength="26" lengthAdjust="spacingAndGlyphs" stroke="#000" stroke-width="0.42">DN50</text>
<path d="M594.5 773.8 L560 773.8 L535 794.5" fill="none" stroke="#000" stroke-width="1.42"/>
<line x1="560" y1="773.8" x2="553.8" y2="798.8" stroke="#000" stroke-width="1.42"/>
<text x="562" y="784" font-family="&quot;Liberation Sans&quot;, &quot;Noto Sans CJK SC&quot;, sans-serif" font-size="9.4" font-weight="900" textLength="32" lengthAdjust="spacingAndGlyphs">热镀锌钢管</text>
<text x="659.6" y="770" font-family="&quot;Liberation Sans&quot;, sans-serif" font-size="14" textLength="26" lengthAdjust="spacingAndGlyphs" stroke="#000" stroke-width="0.42">DN32</text>
<path d="M687 771.8 L653.3 771.8 L638.3 810" fill="none" stroke="#000" stroke-width="1.42"/>
<text x="654.5" y="782.6" font-family="&quot;Liberation Sans&quot;, &quot;Noto Sans CJK SC&quot;, sans-serif" font-size="9.4" font-weight="900" textLength="32" lengthAdjust="spacingAndGlyphs">热镀锌钢管</text>
<line x1="872.5" y1="777.5" x2="872.5" y2="922.5" stroke="#000" stroke-width="1.42"/>
<line x1="867.5" y1="794.5" x2="878" y2="794.5" stroke="#000" stroke-width="1.42"/>
<line x1="867.5" y1="796.5" x2="878" y2="796.5" stroke="#000" stroke-width="1.42"/>
<line x1="867.5" y1="891.5" x2="878" y2="891.5" stroke="#000" stroke-width="1.42"/>
<line x1="867.5" y1="898.5" x2="878" y2="898.5" stroke="#000" stroke-width="1.42"/>
<line x1="867.5" y1="906.5" x2="878" y2="906.5" stroke="#000" stroke-width="1.42"/>
<line x1="869.7" y1="798.1" x2="875.3" y2="792.5" stroke="#000" stroke-width="1.59"/>
<line x1="869.7" y1="894.6" x2="875.3" y2="889" stroke="#000" stroke-width="1.59"/>
<line x1="869.7" y1="901.6" x2="875.3" y2="896" stroke="#000" stroke-width="1.59"/>
<line x1="869.7" y1="909.2" x2="875.3" y2="903.6" stroke="#000" stroke-width="1.59"/>
<text x="0" y="0" transform="translate(870.76 790.3) rotate(-90)" font-family="&quot;Liberation Sans&quot;, sans-serif" font-size="16.35" textLength="13.4" lengthAdjust="spacingAndGlyphs" stroke="#000" stroke-width="0.42">30</text>
<text x="0" y="0" transform="translate(871.93 852.55) rotate(-90)" font-family="&quot;Liberation Sans&quot;, sans-serif" font-size="16.83" textLength="27.5" lengthAdjust="spacingAndGlyphs" stroke="#000" stroke-width="0.42">1300</text>
<text x="0" y="0" transform="translate(867.93 906.25) rotate(-90)" font-family="&quot;Liberation Sans&quot;, sans-serif" font-size="16.83" textLength="19.5" lengthAdjust="spacingAndGlyphs" stroke="#000" stroke-width="0.42">100</text>
<text x="0" y="0" transform="translate(867.93 926.25) rotate(-90)" font-family="&quot;Liberation Sans&quot;, sans-serif" font-size="16.83" textLength="19.5" lengthAdjust="spacingAndGlyphs" stroke="#000" stroke-width="0.42">100</text>
<text x="820.6" y="895.3" font-family="&quot;Liberation Sans&quot;, sans-serif" font-size="13.8" textLength="37" lengthAdjust="spacingAndGlyphs" stroke="#000" stroke-width="0.42">± 0.000</text>
<line x1="817.5" y1="897.5" x2="851" y2="897.5" stroke="#000" stroke-width="1.42"/>
<path d="M817.5 898.2 L827.5 898.2 L822.5 903.2 Z" fill="none" stroke="#000" stroke-width="1.18"/>
</g>
<g id="elevR">
<line x1="975.6" y1="648.5" x2="1346.2" y2="648.5" stroke="#000" stroke-width="1.42"/>
<line x1="972.6" y1="651.1" x2="978.6" y2="645.1" stroke="#000" stroke-width="1.59"/>
<line x1="1343.2" y1="651.1" x2="1349.2" y2="645.1" stroke="#000" stroke-width="1.59"/>
<line x1="975.5" y1="643.4" x2="975.5" y2="665" stroke="#000" stroke-width="1.42"/>
<line x1="1346.5" y1="643.4" x2="1346.5" y2="665" stroke="#000" stroke-width="1.42"/>
<line x1="1160.5" y1="659.5" x2="1160.5" y2="665" stroke="#999" stroke-width="0.7"/>
<text x="1136.65" y="646.8" font-family="&quot;Liberation Sans&quot;, sans-serif" font-size="14.61" textLength="43.7" lengthAdjust="spacingAndGlyphs" stroke="#000" stroke-width="0.42">3000+L</text>
<path d="M938.4 782.39L941.59 779.2M938.4 785.58L944.78 779.2M938.4 788.77L947.97 779.2M939.36 791L951.16 779.2M942.55 791L954.35 779.2M945.74 791L957.54 779.2M948.93 791L960.73 779.2M952.12 791L963.92 779.2M955.31 791L967.11 779.2M958.5 791L970.3 779.2M961.69 791L973.49 779.2M964.88 791L976.68 779.2M968.07 791L979.87 779.2M971.26 791L983.06 779.2M974.45 791L986.25 779.2M977.64 791L989.44 779.2M980.83 791L992.63 779.2M984.02 791L995.82 779.2M987.21 791L999.01 779.2M990.4 791L1002.2 779.2M993.59 791L1005.39 779.2M996.78 791L1008.58 779.2M999.97 791L1011.77 779.2M1003.16 791L1014.96 779.2M1006.35 791L1018.15 779.2M1009.54 791L1021.34 779.2M1012.73 791L1024.53 779.2M1015.92 791L1027.72 779.2M1019.11 791L1030.91 779.2M1022.3 791L1034.1 779.2M1025.49 791L1037.29 779.2M1028.68 791L1040.48 779.2M1031.87 791L1043.67 779.2M1035.06 791L1046.86 779.2M1038.25 791L1050.05 779.2M1041.44 791L1053.24 779.2M1044.63 791L1056.43 779.2M1047.82 791L1059.62 779.2M1051.01 791L1062.81 779.2M1054.2 791L1066 779.2M1057.39 791L1069.19 779.2M1060.58 791L1072.38 779.2M1063.77 791L1075.57 779.2M1066.96 791L1078.76 779.2M1070.15 791L1081.95 779.2M1073.34 791L1085.14 779.2M1076.53 791L1088.33 779.2M1079.72 791L1091.52 779.2M1082.91 791L1094.71 779.2M1086.1 791L1097.9 779.2M1089.29 791L1101.09 779.2M1092.48 791L1104.28 779.2M1095.67 791L1107.47 779.2M1098.86 791L1110.66 779.2M1102.05 791L1113.85 779.2M1105.24 791L1117.04 779.2M1108.43 791L1120.23 779.2M1111.62 791L1123.42 779.2M1114.81 791L1126.61 779.2M1118 791L1129.8 779.2M1121.19 791L1132.99 779.2M1124.38 791L1136.18 779.2M1127.57 791L1139.37 779.2M1130.76 791L1142.56 779.2M1133.95 791L1145.75 779.2M1137.14 791L1148.94 779.2M1140.33 791L1152.13 779.2M1143.52 791L1155.32 779.2M1146.71 791L1158.51 779.2M1149.9 791L1161.7 779.2M1153.09 791L1164.89 779.2M1156.28 791L1168.08 779.2M1159.47 791L1171.27 779.2M1162.66 791L1174.46 779.2M1165.85 791L1177.65 779.2M1169.04 791L1180.84 779.2M1172.23 791L1184.03 779.2M1175.42 791L1187.22 779.2M1178.61 791L1190.41 779.2M1181.8 791L1193.6 779.2M1184.99 791L1196.79 779.2M1188.18 791L1199.98 779.2M1191.37 791L1203.17 779.2M1194.56 791L1206.36 779.2M1197.75 791L1209.55 779.2M1200.94 791L1212.74 779.2M1204.13 791L1215.93 779.2M1207.32 791L1219.12 779.2M1210.51 791L1222.31 779.2M1213.7 791L1225.5 779.2M1216.89 791L1228.69 779.2M1220.08 791L1231.88 779.2M1223.27 791L1235.07 779.2M1226.46 791L1238.26 779.2M1229.65 791L1241.45 779.2M1232.84 791L1244.64 779.2M1236.03 791L1247.83 779.2M1239.22 791L1251.02 779.2M1242.41 791L1254.21 779.2M1245.6 791L1257.4 779.2M1248.79 791L1260.59 779.2M1251.98 791L1263.78 779.2M1255.17 791L1266.97 779.2M1258.36 791L1270.16 779.2M1261.55 791L1273.35 779.2M1264.74 791L1276.54 779.2M1267.93 791L1279.73 779.2M1271.12 791L1282.92 779.2M1274.31 791L1286.11 779.2M1277.5 791L1289.3 779.2M1280.69 791L1292.49 779.2M1283.88 791L1295.68 779.2M1287.07 791L1298.87 779.2M1290.26 791L1302.06 779.2M1293.45 791L1305.25 779.2M1296.64 791L1308.44 779.2M1299.83 791L1311.63 779.2M1303.02 791L1314.82 779.2M1306.21 791L1318.01 779.2M1309.4 791L1321.2 779.2M1312.59 791L1324.39 779.2M1315.78 791L1327.58 779.2M1318.97 791L1330.77 779.2M1322.16 791L1333.96 779.2M1325.35 791L1337.15 779.2M1328.54 791L1340.34 779.2M1331.73 791L1343.53 779.2M1334.92 791L1346.72 779.2M1338.11 791L1349.91 779.2M1341.3 791L1353.1 779.2M1344.49 791L1356.29 779.2M1347.68 791L1359.48 779.2M1350.87 791L1362.67 779.2M1354.06 791L1365.86 779.2M1357.25 791L1369.05 779.2M1360.44 791L1372.24 779.2M1363.63 791L1375.43 779.2M1366.82 791L1377.5 780.32M1370.01 791L1377.5 783.51M1373.2 791L1377.5 786.7M1376.39 791L1377.5 789.89" fill="none" stroke="#606060" stroke-width="0.68"/>
<line x1="934.1" y1="779.5" x2="1378.4" y2="779.5" stroke="#000" stroke-width="1.47"/>
<line x1="977.4" y1="668.5" x2="1344" y2="668.5" stroke="#000" stroke-width="1.47"/>
<line x1="977.4" y1="672.5" x2="1344" y2="672.5" stroke="#000" stroke-width="1.47"/>
<line x1="977.4" y1="759.5" x2="1344" y2="759.5" stroke="#000" stroke-width="1.47"/>
<line x1="977.4" y1="763.5" x2="1344" y2="763.5" stroke="#000" stroke-width="1.47"/>
<line x1="988" y1="672" x2="988" y2="759.8" stroke="#b0b0b0" stroke-width="3"/>
<line x1="986.5" y1="672" x2="986.5" y2="759.8" stroke="#000" stroke-width="0.98"/>
<line x1="989.5" y1="672" x2="989.5" y2="759.8" stroke="#000" stroke-width="0.98"/>
<line x1="999.5" y1="672" x2="999.5" y2="759.8" stroke="#b0b0b0" stroke-width="2"/>
<line x1="998.5" y1="672" x2="998.5" y2="759.8" stroke="#000" stroke-width="0.98"/>
<line x1="1000.5" y1="672" x2="1000.5" y2="759.8" stroke="#000" stroke-width="0.98"/>
<line x1="1011" y1="672" x2="1011" y2="759.8" stroke="#333" stroke-width="3"/>
<line x1="1009.5" y1="672" x2="1009.5" y2="759.8" stroke="#000" stroke-width="0.98"/>
<line x1="1012.5" y1="672" x2="1012.5" y2="759.8" stroke="#000" stroke-width="0.98"/>
<line x1="1022.5" y1="672" x2="1022.5" y2="759.8" stroke="#b0b0b0" stroke-width="2"/>
<line x1="1021.5" y1="672" x2="1021.5" y2="759.8" stroke="#000" stroke-width="0.98"/>
<line x1="1023.5" y1="672" x2="1023.5" y2="759.8" stroke="#000" stroke-width="0.98"/>
<line x1="1034" y1="672" x2="1034" y2="759.8" stroke="#b0b0b0" stroke-width="3"/>
<line x1="1032.5" y1="672" x2="1032.5" y2="759.8" stroke="#000" stroke-width="0.98"/>
<line x1="1035.5" y1="672" x2="1035.5" y2="759.8" stroke="#000" stroke-width="0.98"/>
<line x1="1046" y1="672" x2="1046" y2="759.8" stroke="#b0b0b0" stroke-width="3"/>
<line x1="1044.5" y1="672" x2="1044.5" y2="759.8" stroke="#000" stroke-width="0.98"/>
<line x1="1047.5" y1="672" x2="1047.5" y2="759.8" stroke="#000" stroke-width="0.98"/>
<line x1="1057" y1="672" x2="1057" y2="759.8" stroke="#b0b0b0" stroke-width="3"/>
<line x1="1055.5" y1="672" x2="1055.5" y2="759.8" stroke="#000" stroke-width="0.98"/>
<line x1="1058.5" y1="672" x2="1058.5" y2="759.8" stroke="#000" stroke-width="0.98"/>
<line x1="1069" y1="672" x2="1069" y2="759.8" stroke="#333" stroke-width="3"/>
<line x1="1067.5" y1="672" x2="1067.5" y2="759.8" stroke="#000" stroke-width="0.98"/>
<line x1="1070.5" y1="672" x2="1070.5" y2="759.8" stroke="#000" stroke-width="0.98"/>
<line x1="1080" y1="672" x2="1080" y2="759.8" stroke="#b0b0b0" stroke-width="3"/>
<line x1="1078.5" y1="672" x2="1078.5" y2="759.8" stroke="#000" stroke-width="0.98"/>
<line x1="1081.5" y1="672" x2="1081.5" y2="759.8" stroke="#000" stroke-width="0.98"/>
<line x1="1092" y1="672" x2="1092" y2="759.8" stroke="#b0b0b0" stroke-width="3"/>
<line x1="1090.5" y1="672" x2="1090.5" y2="759.8" stroke="#000" stroke-width="0.98"/>
<line x1="1093.5" y1="672" x2="1093.5" y2="759.8" stroke="#000" stroke-width="0.98"/>
<line x1="1103" y1="672" x2="1103" y2="759.8" stroke="#b0b0b0" stroke-width="3"/>
<line x1="1101.5" y1="672" x2="1101.5" y2="759.8" stroke="#000" stroke-width="0.98"/>
<line x1="1104.5" y1="672" x2="1104.5" y2="759.8" stroke="#000" stroke-width="0.98"/>
<line x1="1115" y1="672" x2="1115" y2="759.8" stroke="#333" stroke-width="3"/>
<line x1="1113.5" y1="672" x2="1113.5" y2="759.8" stroke="#000" stroke-width="0.98"/>
<line x1="1116.5" y1="672" x2="1116.5" y2="759.8" stroke="#000" stroke-width="0.98"/>
<line x1="1126" y1="672" x2="1126" y2="759.8" stroke="#b0b0b0" stroke-width="3"/>
<line x1="1124.5" y1="672" x2="1124.5" y2="759.8" stroke="#000" stroke-width="0.98"/>
<line x1="1127.5" y1="672" x2="1127.5" y2="759.8" stroke="#000" stroke-width="0.98"/>
<line x1="1138" y1="672" x2="1138" y2="759.8" stroke="#b0b0b0" stroke-width="3"/>
<line x1="1136.5" y1="672" x2="1136.5" y2="759.8" stroke="#000" stroke-width="0.98"/>
<line x1="1139.5" y1="672" x2="1139.5" y2="759.8" stroke="#000" stroke-width="0.98"/>
<line x1="1149.5" y1="672" x2="1149.5" y2="759.8" stroke="#b0b0b0" stroke-width="2"/>
<line x1="1148.5" y1="672" x2="1148.5" y2="759.8" stroke="#000" stroke-width="0.98"/>
<line x1="1150.5" y1="672" x2="1150.5" y2="759.8" stroke="#000" stroke-width="0.98"/>
<line x1="1172.5" y1="672" x2="1172.5" y2="759.8" stroke="#b0b0b0" stroke-width="2"/>
<line x1="1171.5" y1="672" x2="1171.5" y2="759.8" stroke="#000" stroke-width="0.98"/>
<line x1="1173.5" y1="672" x2="1173.5" y2="759.8" stroke="#000" stroke-width="0.98"/>
<line x1="1184" y1="672" x2="1184" y2="759.8" stroke="#b0b0b0" stroke-width="3"/>
<line x1="1182.5" y1="672" x2="1182.5" y2="759.8" stroke="#000" stroke-width="0.98"/>
<line x1="1185.5" y1="672" x2="1185.5" y2="759.8" stroke="#000" stroke-width="0.98"/>
<line x1="1195.5" y1="672" x2="1195.5" y2="759.8" stroke="#b0b0b0" stroke-width="2"/>
<line x1="1194.5" y1="672" x2="1194.5" y2="759.8" stroke="#000" stroke-width="0.98"/>
<line x1="1196.5" y1="672" x2="1196.5" y2="759.8" stroke="#000" stroke-width="0.98"/>
<line x1="1207" y1="672" x2="1207" y2="759.8" stroke="#b0b0b0" stroke-width="3"/>
<line x1="1205.5" y1="672" x2="1205.5" y2="759.8" stroke="#000" stroke-width="0.98"/>
<line x1="1208.5" y1="672" x2="1208.5" y2="759.8" stroke="#000" stroke-width="0.98"/>
<line x1="1218.5" y1="672" x2="1218.5" y2="759.8" stroke="#b0b0b0" stroke-width="2"/>
<line x1="1217.5" y1="672" x2="1217.5" y2="759.8" stroke="#000" stroke-width="0.98"/>
<line x1="1219.5" y1="672" x2="1219.5" y2="759.8" stroke="#000" stroke-width="0.98"/>
<line x1="1230" y1="672" x2="1230" y2="759.8" stroke="#b0b0b0" stroke-width="3"/>
<line x1="1228.5" y1="672" x2="1228.5" y2="759.8" stroke="#000" stroke-width="0.98"/>
<line x1="1231.5" y1="672" x2="1231.5" y2="759.8" stroke="#000" stroke-width="0.98"/>
<line x1="1242" y1="672" x2="1242" y2="759.8" stroke="#b0b0b0" stroke-width="3"/>
<line x1="1240.5" y1="672" x2="1240.5" y2="759.8" stroke="#000" stroke-width="0.98"/>
<line x1="1243.5" y1="672" x2="1243.5" y2="759.8" stroke="#000" stroke-width="0.98"/>
<line x1="1253" y1="672" x2="1253" y2="759.8" stroke="#b0b0b0" stroke-width="3"/>
<line x1="1251.5" y1="672" x2="1251.5" y2="759.8" stroke="#000" stroke-width="0.98"/>
<line x1="1254.5" y1="672" x2="1254.5" y2="759.8" stroke="#000" stroke-width="0.98"/>
<line x1="1265" y1="672" x2="1265" y2="759.8" stroke="#333" stroke-width="3"/>
<line x1="1263.5" y1="672" x2="1263.5" y2="759.8" stroke="#000" stroke-width="0.98"/>
<line x1="1266.5" y1="672" x2="1266.5" y2="759.8" stroke="#000" stroke-width="0.98"/>
<line x1="1276" y1="672" x2="1276" y2="759.8" stroke="#b0b0b0" stroke-width="3"/>
<line x1="1274.5" y1="672" x2="1274.5" y2="759.8" stroke="#000" stroke-width="0.98"/>
<line x1="1277.5" y1="672" x2="1277.5" y2="759.8" stroke="#000" stroke-width="0.98"/>
<line x1="1288" y1="672" x2="1288" y2="759.8" stroke="#b0b0b0" stroke-width="3"/>
<line x1="1286.5" y1="672" x2="1286.5" y2="759.8" stroke="#000" stroke-width="0.98"/>
<line x1="1289.5" y1="672" x2="1289.5" y2="759.8" stroke="#000" stroke-width="0.98"/>
<line x1="1299" y1="672" x2="1299" y2="759.8" stroke="#b0b0b0" stroke-width="3"/>
<line x1="1297.5" y1="672" x2="1297.5" y2="759.8" stroke="#000" stroke-width="0.98"/>
<line x1="1300.5" y1="672" x2="1300.5" y2="759.8" stroke="#000" stroke-width="0.98"/>
<line x1="1311" y1="672" x2="1311" y2="759.8" stroke="#b0b0b0" stroke-width="3"/>
<line x1="1309.5" y1="672" x2="1309.5" y2="759.8" stroke="#000" stroke-width="0.98"/>
<line x1="1312.5" y1="672" x2="1312.5" y2="759.8" stroke="#000" stroke-width="0.98"/>
<line x1="1322" y1="672" x2="1322" y2="759.8" stroke="#b0b0b0" stroke-width="3"/>
<line x1="1320.5" y1="672" x2="1320.5" y2="759.8" stroke="#000" stroke-width="0.98"/>
<line x1="1323.5" y1="672" x2="1323.5" y2="759.8" stroke="#000" stroke-width="0.98"/>
<line x1="1334" y1="672" x2="1334" y2="759.8" stroke="#b0b0b0" stroke-width="3"/>
<line x1="1332.5" y1="672" x2="1332.5" y2="759.8" stroke="#000" stroke-width="0.98"/>
<line x1="1335.5" y1="672" x2="1335.5" y2="759.8" stroke="#000" stroke-width="0.98"/>
<rect x="973.5" y="665.5" width="4" height="105" fill="#d4d4d4" stroke="#000" stroke-width="1.42"/>
<rect x="1158.5" y="665.5" width="5" height="105" fill="#d4d4d4" stroke="#000" stroke-width="1.42"/>
<rect x="1343.5" y="665.5" width="5" height="105" fill="#d4d4d4" stroke="#000" stroke-width="1.42"/>
<rect x="964.5" y="770.5" width="22" height="30" fill="#fff" stroke="#000" stroke-width="1.47"/>
<path d="M969.58 774.12L970.64 776.55L968.01 776.26Z" fill="#000" stroke="#000" stroke-width="0.6" stroke-linejoin="round"/>
<path d="M969.86 777.81L969.17 780.66L967.04 778.64Z" fill="#000" stroke="#000" stroke-width="0.6" stroke-linejoin="round"/>
<path d="M969.11 783.09L968.16 786.01L966.1 783.74Z" fill="#000" stroke="#000" stroke-width="0.6" stroke-linejoin="round"/>
<path d="M980.05 795.9L981.44 793.42L982.88 795.87Z" fill="#000" stroke="#000" stroke-width="0.6" stroke-linejoin="round"/>
<rect x="1149.5" y="770.5" width="23" height="30" fill="#fff" stroke="#000" stroke-width="1.47"/>
<path d="M1159.34 797.2L1156.21 795.79L1158.99 793.78Z" fill="#000" stroke="#000" stroke-width="0.6" stroke-linejoin="round"/>
<path d="M1153.12 778.79L1155.4 777.16L1155.67 779.95Z" fill="#000" stroke="#000" stroke-width="0.6" stroke-linejoin="round"/>
<path d="M1161.22 780.17L1162.55 777.93L1163.83 780.2Z" fill="#000" stroke="#000" stroke-width="0.6" stroke-linejoin="round"/>
<path d="M1157.65 785.49L1160.33 787.61L1157.15 788.87Z" fill="#000" stroke="#000" stroke-width="0.6" stroke-linejoin="round"/>
<path d="M1162.88 789.27L1159.75 789.85L1160.8 786.85Z" fill="#000" stroke="#000" stroke-width="0.6" stroke-linejoin="round"/>
<rect x="1335.5" y="770.5" width="22" height="30" fill="#fff" stroke="#000" stroke-width="1.47"/>
<path d="M1354.12 791.03L1354.87 794.3L1351.66 793.31Z" fill="#000" stroke="#000" stroke-width="0.6" stroke-linejoin="round"/>
<path d="M1343.19 781.82L1345.74 782.66L1343.74 784.45Z" fill="#000" stroke="#000" stroke-width="0.6" stroke-linejoin="round"/>
<path d="M1338.99 775.72L1336.54 774.4L1338.91 772.94Z" fill="#000" stroke="#000" stroke-width="0.6" stroke-linejoin="round"/>
<path d="M1344.13 775.19L1341.76 774.11L1343.88 772.6Z" fill="#000" stroke="#000" stroke-width="0.6" stroke-linejoin="round"/>
<path d="M1339.93 780.98L1339.27 783.51L1337.4 781.67Z" fill="#000" stroke="#000" stroke-width="0.6" stroke-linejoin="round"/>
<line x1="922.5" y1="648" x2="922.5" y2="796.3" stroke="#000" stroke-width="1.42"/>
<line x1="918" y1="665.5" x2="928.5" y2="665.5" stroke="#000" stroke-width="1.42"/>
<line x1="918" y1="667.5" x2="928.5" y2="667.5" stroke="#000" stroke-width="1.42"/>
<line x1="918" y1="763.5" x2="928.5" y2="763.5" stroke="#000" stroke-width="1.42"/>
<line x1="918" y1="770.5" x2="928.5" y2="770.5" stroke="#000" stroke-width="1.42"/>
<line x1="918" y1="779.5" x2="928.5" y2="779.5" stroke="#000" stroke-width="1.42"/>
<line x1="919.5" y1="669.2" x2="925.1" y2="663.6" stroke="#000" stroke-width="1.59"/>
<line x1="919.5" y1="766.2" x2="925.1" y2="760.6" stroke="#000" stroke-width="1.59"/>
<line x1="919.5" y1="773.4" x2="925.1" y2="767.8" stroke="#000" stroke-width="1.59"/>
<line x1="919.5" y1="781.8" x2="925.1" y2="776.2" stroke="#000" stroke-width="1.59"/>
<text x="0" y="0" transform="translate(920.36 663.2) rotate(-90)" font-family="&quot;Liberation Sans&quot;, sans-serif" font-size="16.35" textLength="13.4" lengthAdjust="spacingAndGlyphs" stroke="#000" stroke-width="0.42">30</text>
<text x="0" y="0" transform="translate(917.53 723.75) rotate(-90)" font-family="&quot;Liberation Sans&quot;, sans-serif" font-size="16.83" textLength="27.5" lengthAdjust="spacingAndGlyphs" stroke="#000" stroke-width="0.42">1300</text>
<text x="0" y="0" transform="translate(917.53 777.25) rotate(-90)" font-family="&quot;Liberation Sans&quot;, sans-serif" font-size="16.83" textLength="19.5" lengthAdjust="spacingAndGlyphs" stroke="#000" stroke-width="0.42">100</text>
<text x="0" y="0" transform="translate(917.53 797.25) rotate(-90)" font-family="&quot;Liberation Sans&quot;, sans-serif" font-size="16.83" textLength="19.5" lengthAdjust="spacingAndGlyphs" stroke="#000" stroke-width="0.42">100</text>
<line x1="940.5" y1="708" x2="940.5" y2="741" stroke="#000" stroke-width="1.42"/>
<line x1="938.4" y1="711.5" x2="961.5" y2="711.5" stroke="#000" stroke-width="1.42"/>
<line x1="938.4" y1="718.5" x2="961.5" y2="718.5" stroke="#000" stroke-width="1.42"/>
<line x1="937.7" y1="714.5" x2="942.9" y2="709.3" stroke="#000" stroke-width="1.59"/>
<line x1="937.7" y1="721.4" x2="942.9" y2="716.2" stroke="#000" stroke-width="1.59"/>
<text x="0" y="0" transform="translate(938.16 740.35) rotate(-90)" font-family="&quot;Liberation Sans&quot;, sans-serif" font-size="16.35" textLength="19.5" lengthAdjust="spacingAndGlyphs" stroke="#000" stroke-width="0.42">100</text>
</g>
<g id="detail">
<path d="M907.9 163.8L907.9 163.8M907.9 167.7L911.8 163.8M907.9 171.6L915.7 163.8M907.9 175.5L919.6 163.8M907.9 179.4L923.5 163.8M907.9 183.3L927.4 163.8M908.6 186.5L931.3 163.8M912.5 186.5L935.2 163.8M916.4 186.5L939.1 163.8M920.3 186.5L939.5 167.3M924.2 186.5L939.5 171.2M928.1 186.5L939.5 175.1M932 186.5L939.5 179M935.9 186.5L939.5 182.9" fill="none" stroke="#777" stroke-width="0.8"/>
<path d="M997.8 167.7L1001.7 163.8M997.8 171.6L1005.6 163.8M997.8 175.5L1009.5 163.8M997.8 179.4L1013.4 163.8M997.8 183.3L1017.3 163.8M998.5 186.5L1021.2 163.8M1002.4 186.5L1025.1 163.8M1006.3 186.5L1029 163.8M1010.2 186.5L1029 167.7M1014.1 186.5L1029 171.6M1018 186.5L1029 175.5M1021.9 186.5L1029 179.4M1025.8 186.5L1029 183.3" fill="none" stroke="#777" stroke-width="0.8"/>
<line x1="905.6" y1="163.5" x2="940.7" y2="163.5" stroke="#000" stroke-width="1.47"/>
<line x1="996.6" y1="163.5" x2="1031.6" y2="163.5" stroke="#000" stroke-width="1.47"/>
<rect x="940.5" y="144.5" width="56" height="74" fill="#fff" stroke="#000" stroke-width="1.53"/>
<path d="M949.63 159.43L949.87 156.63L952.18 158.24Z" fill="#000" stroke="#000" stroke-width="0.6" stroke-linejoin="round"/>
<path d="M949.61 156.26L946.8 158.06L946.65 154.73Z" fill="#000" stroke="#000" stroke-width="0.6" stroke-linejoin="round"/>
<path d="M950.09 181.82L947.44 181.51L949.04 179.37Z" fill="#000" stroke="#000" stroke-width="0.6" stroke-linejoin="round"/>
<path d="M948.45 167.63L945.53 166.07L948.34 164.31Z" fill="#000" stroke="#000" stroke-width="0.6" stroke-linejoin="round"/>
<path d="M944.83 214.07L942.02 212.89L944.45 211.04Z" fill="#000" stroke="#000" stroke-width="0.6" stroke-linejoin="round"/>
<path d="M951.49 149.6L949.08 151.47L948.66 148.45Z" fill="#000" stroke="#000" stroke-width="0.6" stroke-linejoin="round"/>
<path d="M952.34 196.55L952.92 193.79L955.02 195.68Z" fill="#000" stroke="#000" stroke-width="0.6" stroke-linejoin="round"/>
<path d="M945.74 198.75L946.77 201.63L943.76 201.09Z" fill="#000" stroke="#000" stroke-width="0.6" stroke-linejoin="round"/>
<path d="M949.19 162.98L946.5 164.9L946.18 161.62Z" fill="#000" stroke="#000" stroke-width="0.6" stroke-linejoin="round"/>
<path d="M973.59 186.4L975.43 189.15L972.13 189.37Z" fill="#000" stroke="#000" stroke-width="0.6" stroke-linejoin="round"/>
<path d="M965.66 174.19L962.93 175.16L963.45 172.3Z" fill="#000" stroke="#000" stroke-width="0.6" stroke-linejoin="round"/>
<path d="M960.35 160.45L962.54 162.23L959.9 163.23Z" fill="#000" stroke="#000" stroke-width="0.6" stroke-linejoin="round"/>
<path d="M977.29 170.21L974.48 172.14L974.21 168.74Z" fill="#000" stroke="#000" stroke-width="0.6" stroke-linejoin="round"/>
<path d="M975.54 167.82L973.81 165.64L976.56 165.23Z" fill="#000" stroke="#000" stroke-width="0.6" stroke-linejoin="round"/>
<path d="M965.01 157.15L963.74 160.02L961.89 157.48Z" fill="#000" stroke="#000" stroke-width="0.6" stroke-linejoin="round"/>
<path d="M974.08 170.23L974.76 173.32L971.74 172.36Z" fill="#000" stroke="#000" stroke-width="0.6" stroke-linejoin="round"/>
<path d="M982.49 191L983.57 194.21L980.25 193.54Z" fill="#000" stroke="#000" stroke-width="0.6" stroke-linejoin="round"/>
<path d="M991.13 178.96L991.9 181.61L989.22 180.95Z" fill="#000" stroke="#000" stroke-width="0.6" stroke-linejoin="round"/>
<path d="M983.75 203.67L985.06 200.49L987.16 203.21Z" fill="#000" stroke="#000" stroke-width="0.6" stroke-linejoin="round"/>
<path d="M987.12 214.01L984.36 212.34L987.18 210.79Z" fill="#000" stroke="#000" stroke-width="0.6" stroke-linejoin="round"/>
<path d="M983.33 156.45L983.9 159.78L980.73 158.61Z" fill="#000" stroke="#000" stroke-width="0.6" stroke-linejoin="round"/>
<path d="M981.8 202.54L984.89 204.08L982.01 205.98Z" fill="#000" stroke="#000" stroke-width="0.6" stroke-linejoin="round"/>
<path d="M987.11 185.45L984.66 186.59L984.9 183.89Z" fill="#000" stroke="#000" stroke-width="0.6" stroke-linejoin="round"/>
<path d="M995.23 191.46L993.44 193.93L992.19 191.14Z" fill="#000" stroke="#000" stroke-width="0.6" stroke-linejoin="round"/>
<path d="M987.1 209.13L984.8 206.75L988.01 205.95Z" fill="#000" stroke="#000" stroke-width="0.6" stroke-linejoin="round"/>
<path d="M962.89 206.68L965.7 206.73L964.25 209.14Z" fill="#000" stroke="#000" stroke-width="0.6" stroke-linejoin="round"/>
<path d="M965.73 208.19L964.48 210.59L963.02 208.31Z" fill="#000" stroke="#000" stroke-width="0.6" stroke-linejoin="round"/>
<path d="M967.49 208.48L966.16 211.28L964.39 208.73Z" fill="#000" stroke="#000" stroke-width="0.6" stroke-linejoin="round"/>
<path d="M965.43 214.67L968.31 213.7L967.71 216.67Z" fill="#000" stroke="#000" stroke-width="0.6" stroke-linejoin="round"/>
<path d="M966 200.3 L957.8 200.3 L957.8 144.8" fill="none" stroke="#000" stroke-width="1.53"/>
<path d="M970.3 200.3 L978.4 200.3 L978.4 144.8" fill="none" stroke="#000" stroke-width="1.53"/>
<line x1="952" y1="143.5" x2="985.3" y2="143.5" stroke="#000" stroke-width="1.8"/>
<path d="M963.5 143.5 L963.5 114.5 Q963.8 112.6 966 113.2 Q968.8 115.6 971.3 114.3 Q973.8 112.6 974.6 113.6 L974.6 143.5" fill="none" stroke="#000" stroke-width="1.3"/>
<line x1="969.5" y1="114.5" x2="969.5" y2="143.5" stroke="#000" stroke-width="1.18"/>
<line x1="960.5" y1="201.6" x2="960.5" y2="288" stroke="#555" stroke-width="0.6"/>
<line x1="963.5" y1="201.6" x2="963.5" y2="288" stroke="#555" stroke-width="0.6"/>
<line x1="955.5" y1="93.5" x2="980.8" y2="93.5" stroke="#000" stroke-width="1.42"/>
<line x1="957.5" y1="90" x2="957.5" y2="108.4" stroke="#000" stroke-width="1.42"/>
<line x1="978.5" y1="90" x2="978.5" y2="108.4" stroke="#000" stroke-width="1.42"/>
<line x1="954.8" y1="96.8" x2="960.8" y2="90.8" stroke="#000" stroke-width="1.59"/>
<line x1="975.4" y1="96.8" x2="981.4" y2="90.8" stroke="#000" stroke-width="1.59"/>
<text x="957.1" y="91.5" font-family="&quot;Liberation Sans&quot;, sans-serif" font-size="14.89" textLength="21" lengthAdjust="spacingAndGlyphs" stroke="#000" stroke-width="0.42">144</text>
<text x="1004.6" y="119" font-family="&quot;Liberation Sans&quot;, sans-serif" font-size="14.5" textLength="52.6" lengthAdjust="spacingAndGlyphs" stroke="#000" stroke-width="0.42">6X180X180</text>
<path d="M1050.5 121.6 L1001.6 121.6 L979.7 143.4" fill="none" stroke="#000" stroke-width="1.53"/>
<text x="1017" y="131.4" font-family="&quot;Liberation Sans&quot;, &quot;Noto Sans CJK SC&quot;, sans-serif" font-size="9.2" font-weight="900" textLength="16.5" lengthAdjust="spacingAndGlyphs">钢板</text>
<text x="922.4" y="143.4" font-family="&quot;Liberation Sans&quot;, sans-serif" font-size="14.18" textLength="7" lengthAdjust="spacingAndGlyphs" stroke="#000" stroke-width="0.42">A</text>
<line x1="917.8" y1="144.5" x2="934.3" y2="144.5" stroke="#000" stroke-width="1.42"/>
<text x="1008.1" y="143.4" font-family="&quot;Liberation Sans&quot;, sans-serif" font-size="14.18" textLength="7" lengthAdjust="spacingAndGlyphs" stroke="#000" stroke-width="0.42">A</text>
<line x1="1002.8" y1="144.5" x2="1020.4" y2="144.5" stroke="#000" stroke-width="1.42"/>
<line x1="891.5" y1="142.5" x2="891.5" y2="165.5" stroke="#000" stroke-width="1.42"/>
<line x1="889" y1="144.5" x2="902.8" y2="144.5" stroke="#000" stroke-width="1.42"/>
<line x1="889" y1="163.5" x2="902" y2="163.5" stroke="#000" stroke-width="1.42"/>
<line x1="888" y1="147.8" x2="894" y2="141.8" stroke="#000" stroke-width="1.59"/>
<line x1="888" y1="166.1" x2="894" y2="160.1" stroke="#000" stroke-width="1.59"/>
<text x="0" y="0" transform="translate(890.52 163.55) rotate(-90)" font-family="&quot;Liberation Sans&quot;, sans-serif" font-size="16.51" textLength="19.5" lengthAdjust="spacingAndGlyphs" stroke="#000" stroke-width="0.42">100</text>
<line x1="1029" y1="144.5" x2="1098.8" y2="144.5" stroke="#000" stroke-width="1.42"/>
<line x1="1029" y1="200.5" x2="1058.4" y2="200.5" stroke="#000" stroke-width="1.42"/>
<line x1="1051" y1="219.5" x2="1098.8" y2="219.5" stroke="#000" stroke-width="1.42"/>
<line x1="1054.5" y1="142.5" x2="1054.5" y2="202.5" stroke="#000" stroke-width="1.42"/>
<line x1="1051.1" y1="147.8" x2="1057.1" y2="141.8" stroke="#000" stroke-width="1.59"/>
<line x1="1051.1" y1="203.3" x2="1057.1" y2="197.3" stroke="#000" stroke-width="1.59"/>
<line x1="1094.5" y1="142.5" x2="1094.5" y2="221.5" stroke="#000" stroke-width="1.42"/>
<line x1="1091" y1="147.8" x2="1097" y2="141.8" stroke="#000" stroke-width="1.59"/>
<line x1="1091" y1="222" x2="1097" y2="216" stroke="#000" stroke-width="1.59"/>
<text x="0" y="0" transform="translate(1053.51 183) rotate(-90)" font-family="&quot;Liberation Sans&quot;, sans-serif" font-size="17.63" textLength="21" lengthAdjust="spacingAndGlyphs" stroke="#000" stroke-width="0.42">300</text>
<text x="0" y="0" transform="translate(1093.01 191.5) rotate(-90)" font-family="&quot;Liberation Sans&quot;, sans-serif" font-size="17.63" textLength="21" lengthAdjust="spacingAndGlyphs" stroke="#000" stroke-width="0.42">360</text>
<line x1="938" y1="253.5" x2="999.5" y2="253.5" stroke="#000" stroke-width="1.42"/>
<line x1="940.5" y1="226" x2="940.5" y2="257.2" stroke="#000" stroke-width="1.42"/>
<line x1="996.5" y1="226" x2="996.5" y2="257.2" stroke="#000" stroke-width="1.42"/>
<line x1="937.7" y1="256" x2="943.7" y2="250" stroke="#000" stroke-width="1.59"/>
<line x1="993.8" y1="256" x2="999.8" y2="250" stroke="#000" stroke-width="1.59"/>
<text x="964" y="251" font-family="&quot;Liberation Sans&quot;, sans-serif" font-size="15.6" textLength="21" lengthAdjust="spacingAndGlyphs" stroke="#000" stroke-width="0.42">300</text>
<text x="862.1" y="230.6" font-family="&quot;Liberation Sans&quot;, sans-serif" font-size="15.2" textLength="41.6" lengthAdjust="spacingAndGlyphs" stroke="#000" stroke-width="0.42">&amp;16X810</text>
<path d="M860.3 231.7 L898.1 231.7 L954.4 200.3" fill="none" stroke="#000" stroke-width="1.42"/>
<line x1="979.7" y1="201" x2="1065" y2="250.3" stroke="#000" stroke-width="1.42"/>
<path d="M1071 305.6 L1065 305.6 L1065 250.3 L1085.6 250.3 L1085.6 305.6 L1079 305.6" fill="none" stroke="#000" stroke-width="1.47"/>
<text x="1067.05" y="248.4" font-family="&quot;Liberation Sans&quot;, sans-serif" font-size="13.62" textLength="16.5" lengthAdjust="spacingAndGlyphs" stroke="#000" stroke-width="0.42">110</text>
<text x="0" y="0" transform="translate(1063.62 282.75) rotate(-90)" font-family="&quot;Liberation Sans&quot;, sans-serif" font-size="15.39" textLength="17.5" lengthAdjust="spacingAndGlyphs" stroke="#000" stroke-width="0.42">300</text>
<text x="0" y="0" transform="translate(1097.82 289.05) rotate(-90)" font-family="&quot;Liberation Sans&quot;, sans-serif" font-size="15.39" textLength="17.5" lengthAdjust="spacingAndGlyphs" stroke="#000" stroke-width="0.42">300</text>
<text x="1063.5" y="321" font-family="&quot;Liberation Sans&quot;, sans-serif" font-size="13" textLength="11.5" lengthAdjust="spacingAndGlyphs" stroke="#000" stroke-width="0.42">50</text>
<text x="1078.2" y="321" font-family="&quot;Liberation Sans&quot;, sans-serif" font-size="13" textLength="11.5" lengthAdjust="spacingAndGlyphs" stroke="#000" stroke-width="0.42">50</text>
<path d="M961.3 263.8 L973.5 281.5 L1048 281.5" fill="none" stroke="#000" stroke-width="1.42"/>
<text x="974.6" y="279.7" font-family="&quot;Liberation Sans&quot;, sans-serif" font-size="14.5" textLength="48.2" lengthAdjust="spacingAndGlyphs" stroke="#000" stroke-width="0.42">L50X50X5</text>
<text x="1027.5" y="278.2" font-family="&quot;Liberation Sans&quot;, &quot;Noto Sans CJK SC&quot;, sans-serif" font-size="8.6" font-weight="900" textLength="25.3" lengthAdjust="spacingAndGlyphs">镀锌角钢</text>
<text x="966" y="292.3" font-family="&quot;Liberation Sans&quot;, sans-serif" font-size="14.1" textLength="24" lengthAdjust="spacingAndGlyphs" stroke="#000" stroke-width="0.42">2500</text>
<text x="992.8" y="291.6" font-family="&quot;Liberation Sans&quot;, &quot;Noto Sans CJK SC&quot;, sans-serif" font-size="9.2" font-weight="900" textLength="66.6" lengthAdjust="spacingAndGlyphs">(围栏4个角落各一根)</text>
<text x="946" y="304" font-family="&quot;Liberation Sans&quot;, &quot;Noto Sans CJK SC&quot;, sans-serif" font-size="9.4" font-weight="900" textLength="44.4" lengthAdjust="spacingAndGlyphs">围栏基础剖面图</text>
<line x1="940.3" y1="308.5" x2="997.9" y2="308.5" stroke="#000" stroke-width="1.53"/>
<line x1="940.3" y1="313.5" x2="997.9" y2="313.5" stroke="#000" stroke-width="1.53"/>
</g>
<g id="AA">
<rect x="1226.5" y="186.5" width="33" height="33" fill="none" stroke="#000" stroke-width="1.65"/>
<line x1="1232.3" y1="192.5" x2="1253.5" y2="192.5" stroke="#000" stroke-width="1.53"/>
<line x1="1232.3" y1="212.5" x2="1253.5" y2="212.5" stroke="#000" stroke-width="1.53"/>
<text x="1203.8" y="159" font-family="&quot;Liberation Sans&quot;, &quot;Noto Sans CJK SC&quot;, sans-serif" font-size="7.4" font-weight="900" textLength="18.7" lengthAdjust="spacingAndGlyphs">双面焊</text>
<path d="M1203 163.1 L1225.6 163.1 L1238 192.3" fill="none" stroke="#000" stroke-width="1.42"/>
<line x1="1223.8" y1="177.5" x2="1262.3" y2="177.5" stroke="#000" stroke-width="1.42"/>
<line x1="1226.5" y1="172.5" x2="1226.5" y2="183.8" stroke="#000" stroke-width="1.42"/>
<line x1="1259.5" y1="172.5" x2="1259.5" y2="183.8" stroke="#000" stroke-width="1.42"/>
<line x1="1223.3" y1="180.8" x2="1229.3" y2="174.8" stroke="#000" stroke-width="1.59"/>
<line x1="1256.8" y1="180.8" x2="1262.8" y2="174.8" stroke="#000" stroke-width="1.59"/>
<text x="1230.55" y="175.3" font-family="&quot;Liberation Sans&quot;, sans-serif" font-size="14.89" textLength="21.5" lengthAdjust="spacingAndGlyphs" stroke="#000" stroke-width="0.42">180</text>
<line x1="1283.5" y1="183.8" x2="1283.5" y2="222.3" stroke="#000" stroke-width="1.42"/>
<line x1="1268" y1="186.5" x2="1287" y2="186.5" stroke="#000" stroke-width="1.42"/>
<line x1="1268" y1="219.5" x2="1287" y2="219.5" stroke="#000" stroke-width="1.42"/>
<line x1="1280.1" y1="189.3" x2="1286.1" y2="183.3" stroke="#000" stroke-width="1.59"/>
<line x1="1280.1" y1="222.8" x2="1286.1" y2="216.8" stroke="#000" stroke-width="1.59"/>
<text x="0" y="0" transform="translate(1280.93 213.75) rotate(-90)" font-family="&quot;Liberation Sans&quot;, sans-serif" font-size="16.83" textLength="21.5" lengthAdjust="spacingAndGlyphs" stroke="#000" stroke-width="0.42">180</text>
<line x1="1210.5" y1="166.9" x2="1210.5" y2="238" stroke="#000" stroke-width="1.42"/>
<line x1="1207.5" y1="186.5" x2="1214.4" y2="186.5" stroke="#000" stroke-width="1.42"/>
<line x1="1208.2" y1="188.7" x2="1213" y2="183.9" stroke="#000" stroke-width="1.3"/>
<line x1="1207.5" y1="192.5" x2="1214.4" y2="192.5" stroke="#000" stroke-width="1.42"/>
<line x1="1208.2" y1="194.7" x2="1213" y2="189.9" stroke="#000" stroke-width="1.3"/>
<line x1="1207.5" y1="212.5" x2="1214.4" y2="212.5" stroke="#000" stroke-width="1.42"/>
<line x1="1208.2" y1="215.3" x2="1213" y2="210.5" stroke="#000" stroke-width="1.3"/>
<line x1="1207.5" y1="219.5" x2="1214.4" y2="219.5" stroke="#000" stroke-width="1.42"/>
<line x1="1208.2" y1="222.2" x2="1213" y2="217.4" stroke="#000" stroke-width="1.3"/>
<text x="0" y="0" transform="translate(1209.02 178.55) rotate(-90)" font-family="&quot;Liberation Sans&quot;, sans-serif" font-size="16.51" textLength="11.5" lengthAdjust="spacingAndGlyphs" stroke="#000" stroke-width="0.42">18</text>
<text x="0" y="0" transform="translate(1209.02 212.25) rotate(-90)" font-family="&quot;Liberation Sans&quot;, sans-serif" font-size="16.51" textLength="20.5" lengthAdjust="spacingAndGlyphs" stroke="#000" stroke-width="0.42">144</text>
<text x="0" y="0" transform="translate(1209.02 232.35) rotate(-90)" font-family="&quot;Liberation Sans&quot;, sans-serif" font-size="16.51" textLength="11.5" lengthAdjust="spacingAndGlyphs" stroke="#000" stroke-width="0.42">18</text>
<line x1="1208" y1="237.5" x2="1278" y2="237.5" stroke="#000" stroke-width="1.42"/>
<line x1="1226.5" y1="228.8" x2="1226.5" y2="241.9" stroke="#000" stroke-width="1.42"/>
<line x1="1223.9" y1="240.2" x2="1228.7" y2="235.4" stroke="#000" stroke-width="1.3"/>
<line x1="1232.5" y1="228.8" x2="1232.5" y2="241.9" stroke="#000" stroke-width="1.42"/>
<line x1="1229.9" y1="240.2" x2="1234.7" y2="235.4" stroke="#000" stroke-width="1.3"/>
<line x1="1253.5" y1="228.8" x2="1253.5" y2="241.9" stroke="#000" stroke-width="1.42"/>
<line x1="1251.1" y1="240.2" x2="1255.9" y2="235.4" stroke="#000" stroke-width="1.3"/>
<line x1="1259.5" y1="228.8" x2="1259.5" y2="241.9" stroke="#000" stroke-width="1.42"/>
<line x1="1257.4" y1="240.2" x2="1262.2" y2="235.4" stroke="#000" stroke-width="1.3"/>
<text x="1212.25" y="236" font-family="&quot;Liberation Sans&quot;, sans-serif" font-size="14.61" textLength="11.5" lengthAdjust="spacingAndGlyphs" stroke="#000" stroke-width="0.42">18</text>
<text x="1232.75" y="236" font-family="&quot;Liberation Sans&quot;, sans-serif" font-size="14.61" textLength="20.5" lengthAdjust="spacingAndGlyphs" stroke="#000" stroke-width="0.42">144</text>
<text x="1265.55" y="236" font-family="&quot;Liberation Sans&quot;, sans-serif" font-size="14.61" textLength="11.5" lengthAdjust="spacingAndGlyphs" stroke="#000" stroke-width="0.42">18</text>
<text x="1234.4" y="263.8" font-family="&quot;Liberation Sans&quot;, sans-serif" font-size="13" textLength="20.6" lengthAdjust="spacingAndGlyphs" stroke="#000" stroke-width="0.42">A-A</text>
<line x1="1231.3" y1="268.5" x2="1253.8" y2="268.5" stroke="#000" stroke-width="1.53"/>
<line x1="1231.3" y1="272.5" x2="1253.8" y2="272.5" stroke="#000" stroke-width="1.53"/>
</g>
<g id="notes">
<text x="957" y="356.96" font-family="&quot;Liberation Sans&quot;, &quot;Noto Sans CJK SC&quot;, sans-serif" font-size="11" font-weight="900" textLength="20.5" lengthAdjust="spacingAndGlyphs">说明:</text>
<text x="958.75" y="377.5" font-family="&quot;Liberation Sans&quot;, sans-serif" font-size="15.6" textLength="6.25" lengthAdjust="spacingAndGlyphs" stroke="#000" stroke-width="0.42">1</text>
<text x="965.75" y="375.96" font-family="&quot;Liberation Sans&quot;, &quot;Noto Sans CJK SC&quot;, sans-serif" font-size="11" font-weight="900" textLength="6.75" lengthAdjust="spacingAndGlyphs">、</text>
<text x="973.75" y="375.96" font-family="&quot;Liberation Sans&quot;, &quot;Noto Sans CJK SC&quot;, sans-serif" font-size="11" font-weight="900" textLength="47.5" lengthAdjust="spacingAndGlyphs">本图仅适用于</text>
<text x="1021.5" y="377.5" font-family="&quot;Liberation Sans&quot;, sans-serif" font-size="15.6" textLength="92.25" lengthAdjust="spacingAndGlyphs" stroke="#000" stroke-width="0.42">50kVA~400kVA</text>
<text x="1115" y="375.96" font-family="&quot;Liberation Sans&quot;, &quot;Noto Sans CJK SC&quot;, sans-serif" font-size="11" font-weight="900" textLength="61.25" lengthAdjust="spacingAndGlyphs">路灯箱式变电站。</text>
<text x="958.75" y="394.3" font-family="&quot;Liberation Sans&quot;, sans-serif" font-size="15.6" textLength="7" lengthAdjust="spacingAndGlyphs" stroke="#000" stroke-width="0.42">2</text>
<text x="966.5" y="392.76" font-family="&quot;Liberation Sans&quot;, &quot;Noto Sans CJK SC&quot;, sans-serif" font-size="11" font-weight="900" textLength="6" lengthAdjust="spacingAndGlyphs">、</text>
<text x="975" y="392.76" font-family="&quot;Liberation Sans&quot;, &quot;Noto Sans CJK SC&quot;, sans-serif" font-size="11" font-weight="900" textLength="110" lengthAdjust="spacingAndGlyphs">图中标注尺寸均以毫米为单位。</text>
<text x="958.75" y="411.8" font-family="&quot;Liberation Sans&quot;, sans-serif" font-size="15.6" textLength="7" lengthAdjust="spacingAndGlyphs" stroke="#000" stroke-width="0.42">3</text>
<text x="966.5" y="410.26" font-family="&quot;Liberation Sans&quot;, &quot;Noto Sans CJK SC&quot;, sans-serif" font-size="11" font-weight="900" textLength="6" lengthAdjust="spacingAndGlyphs">、</text>
<text x="975" y="410.26" font-family="&quot;Liberation Sans&quot;, &quot;Noto Sans CJK SC&quot;, sans-serif" font-size="11" font-weight="900" textLength="323.75" lengthAdjust="spacingAndGlyphs">加工焊接立柱、上下横柱、格栅及门之间均应满焊,且焊接时不允许产生有焊洞、跑焊和点</text>
<text x="970" y="427.76" font-family="&quot;Liberation Sans&quot;, &quot;Noto Sans CJK SC&quot;, sans-serif" font-size="11" font-weight="900" textLength="191.25" lengthAdjust="spacingAndGlyphs">焊现象,焊前或施焊过程中随时校正围栏及门的水平。</text>
<text x="958.75" y="445.5" font-family="&quot;Liberation Sans&quot;, sans-serif" font-size="15.6" textLength="7" lengthAdjust="spacingAndGlyphs" stroke="#000" stroke-width="0.42">4</text>
<text x="966.5" y="443.96" font-family="&quot;Liberation Sans&quot;, &quot;Noto Sans CJK SC&quot;, sans-serif" font-size="11" font-weight="900" textLength="6" lengthAdjust="spacingAndGlyphs">、</text>
<text x="975" y="443.96" font-family="&quot;Liberation Sans&quot;, &quot;Noto Sans CJK SC&quot;, sans-serif" font-size="11" font-weight="900" textLength="315" lengthAdjust="spacingAndGlyphs">焊接处焊接完成后需去掉焊渣,刷去锈迹,先涂二道防锈漆,然后在表面涂漆,使焊接处</text>
<text x="970" y="460.26" font-family="&quot;Liberation Sans&quot;, &quot;Noto Sans CJK SC&quot;, sans-serif" font-size="11" font-weight="900" textLength="92.5" lengthAdjust="spacingAndGlyphs">与镀锌钢管保持相同色调。</text>
<text x="958.75" y="479.3" font-family="&quot;Liberation Sans&quot;, sans-serif" font-size="15.6" textLength="7" lengthAdjust="spacingAndGlyphs" stroke="#000" stroke-width="0.42">5</text>
<text x="966.5" y="477.76" font-family="&quot;Liberation Sans&quot;, &quot;Noto Sans CJK SC&quot;, sans-serif" font-size="11" font-weight="900" textLength="6" lengthAdjust="spacingAndGlyphs">、</text>
<text x="975" y="477.76" font-family="&quot;Liberation Sans&quot;, &quot;Noto Sans CJK SC&quot;, sans-serif" font-size="11" font-weight="900" textLength="192" lengthAdjust="spacingAndGlyphs">门的设置可按具体地点,由现场管理人员定位。用厚度</text>
<text x="1167.5" y="479.3" font-family="&quot;Liberation Sans&quot;, sans-serif" font-size="15.6" textLength="85" lengthAdjust="spacingAndGlyphs" stroke="#000" stroke-width="0.42">3mm ,ø20X40</text>
<text x="1253.75" y="477.76" font-family="&quot;Liberation Sans&quot;, &quot;Noto Sans CJK SC&quot;, sans-serif" font-size="11" font-weight="900" textLength="47.5" lengthAdjust="spacingAndGlyphs">钢管,中间用</text>
<text x="969.5" y="495" font-family="&quot;Liberation Sans&quot;, sans-serif" font-size="15.6" textLength="45.5" lengthAdjust="spacingAndGlyphs" stroke="#000" stroke-width="0.42">M12X85</text>
<text x="1016.25" y="493.46" font-family="&quot;Liberation Sans&quot;, &quot;Noto Sans CJK SC&quot;, sans-serif" font-size="11" font-weight="900" textLength="170" lengthAdjust="spacingAndGlyphs">圆钢穿芯制作门铰链两付,焊接门与立柱。采用</text>
<text x="1186.25" y="495" font-family="&quot;Liberation Sans&quot;, sans-serif" font-size="15.6" textLength="28.75" lengthAdjust="spacingAndGlyphs" stroke="#000" stroke-width="0.42">2mm</text>
<text x="1216.25" y="493.46" font-family="&quot;Liberation Sans&quot;, &quot;Noto Sans CJK SC&quot;, sans-serif" font-size="11" font-weight="900" textLength="86.25" lengthAdjust="spacingAndGlyphs">厚钢板制作门锁固定板,</text>
<text x="970" y="508.96" font-family="&quot;Liberation Sans&quot;, &quot;Noto Sans CJK SC&quot;, sans-serif" font-size="11" font-weight="900" textLength="191.25" lengthAdjust="spacingAndGlyphs">门锁按供电、路灯部门的要求制作,门锁装在门里侧。</text>
<text x="958.75" y="528" font-family="&quot;Liberation Sans&quot;, sans-serif" font-size="15.6" textLength="7" lengthAdjust="spacingAndGlyphs" stroke="#000" stroke-width="0.42">6</text>
<text x="966.5" y="526.46" font-family="&quot;Liberation Sans&quot;, &quot;Noto Sans CJK SC&quot;, sans-serif" font-size="11" font-weight="900" textLength="6" lengthAdjust="spacingAndGlyphs">、</text>
<text x="975" y="526.46" font-family="&quot;Liberation Sans&quot;, &quot;Noto Sans CJK SC&quot;, sans-serif" font-size="11" font-weight="900" textLength="64.5" lengthAdjust="spacingAndGlyphs">固定立柱的基础为</text>
<text x="1040" y="528" font-family="&quot;Liberation Sans&quot;, sans-serif" font-size="15.6" textLength="83.75" lengthAdjust="spacingAndGlyphs" stroke="#000" stroke-width="0.42">300X300X400</text>
<text x="1125" y="526.46" font-family="&quot;Liberation Sans&quot;, &quot;Noto Sans CJK SC&quot;, sans-serif" font-size="11" font-weight="900" textLength="62" lengthAdjust="spacingAndGlyphs">混凝土基础,标号</text>
<text x="1187.5" y="528" font-family="&quot;Liberation Sans&quot;, sans-serif" font-size="15.6" textLength="21.25" lengthAdjust="spacingAndGlyphs" stroke="#000" stroke-width="0.42">C10</text>
<text x="1210" y="526.46" font-family="&quot;Liberation Sans&quot;, &quot;Noto Sans CJK SC&quot;, sans-serif" font-size="11" font-weight="900" textLength="5" lengthAdjust="spacingAndGlyphs">。</text>
<text x="958.75" y="545.5" font-family="&quot;Liberation Sans&quot;, sans-serif" font-size="15.6" textLength="7" lengthAdjust="spacingAndGlyphs" stroke="#000" stroke-width="0.42">7</text>
<text x="966.5" y="543.96" font-family="&quot;Liberation Sans&quot;, &quot;Noto Sans CJK SC&quot;, sans-serif" font-size="11" font-weight="900" textLength="6" lengthAdjust="spacingAndGlyphs">、</text>
<text x="975" y="543.96" font-family="&quot;Liberation Sans&quot;, &quot;Noto Sans CJK SC&quot;, sans-serif" font-size="11" font-weight="900" textLength="39.5" lengthAdjust="spacingAndGlyphs">围栏内采用</text>
<text x="1015" y="545.5" font-family="&quot;Liberation Sans&quot;, sans-serif" font-size="15.6" textLength="22.5" lengthAdjust="spacingAndGlyphs" stroke="#000" stroke-width="0.42">C20</text>
<text x="1038.75" y="543.96" font-family="&quot;Liberation Sans&quot;, &quot;Noto Sans CJK SC&quot;, sans-serif" font-size="11" font-weight="900" textLength="45.75" lengthAdjust="spacingAndGlyphs">砼地坪,厚度</text>
<text x="1085" y="545.5" font-family="&quot;Liberation Sans&quot;, sans-serif" font-size="15.6" textLength="33.75" lengthAdjust="spacingAndGlyphs" stroke="#000" stroke-width="0.42">20cm</text>
<text x="1120.5" y="543.96" font-family="&quot;Liberation Sans&quot;, &quot;Noto Sans CJK SC&quot;, sans-serif" font-size="11" font-weight="900" textLength="4.5" lengthAdjust="spacingAndGlyphs">。</text>
<text x="958.75" y="563" font-family="&quot;Liberation Sans&quot;, sans-serif" font-size="15.6" textLength="7" lengthAdjust="spacingAndGlyphs" stroke="#000" stroke-width="0.42">8</text>
<text x="966.5" y="561.46" font-family="&quot;Liberation Sans&quot;, &quot;Noto Sans CJK SC&quot;, sans-serif" font-size="11" font-weight="900" textLength="6" lengthAdjust="spacingAndGlyphs">、</text>
<text x="975" y="561.46" font-family="&quot;Liberation Sans&quot;, &quot;Noto Sans CJK SC&quot;, sans-serif" font-size="11" font-weight="900" textLength="14.5" lengthAdjust="spacingAndGlyphs">图中</text>
<text x="990.5" y="563" font-family="&quot;Liberation Sans&quot;, sans-serif" font-size="15.6" textLength="7.5" lengthAdjust="spacingAndGlyphs" stroke="#000" stroke-width="0.42">B</text>
<text x="999" y="561.46" font-family="&quot;Liberation Sans&quot;, &quot;Noto Sans CJK SC&quot;, sans-serif" font-size="11" font-weight="900" textLength="6.5" lengthAdjust="spacingAndGlyphs">、</text>
<text x="1007" y="563" font-family="&quot;Liberation Sans&quot;, sans-serif" font-size="15.6" textLength="7" lengthAdjust="spacingAndGlyphs" stroke="#000" stroke-width="0.42">L</text>
<text x="1015" y="561.46" font-family="&quot;Liberation Sans&quot;, &quot;Noto Sans CJK SC&quot;, sans-serif" font-size="11" font-weight="900" textLength="286.25" lengthAdjust="spacingAndGlyphs">为箱变长、宽尺寸,以实际到货箱变外形尺寸为准。材料表中所列材料仅供参考。</text>
</g>
<g id="title">
<text x="840.5" y="1038.2" font-family="&quot;Liberation Serif&quot;, &quot;Noto Serif CJK SC&quot;, serif" font-size="13.2" font-weight="600" textLength="86.5" lengthAdjust="spacingAndGlyphs">箱变围栏大样图</text>
</g>
<g id="table">
<line x1="1024.5" y1="823.7" x2="1024.5" y2="957.3" stroke="#000" stroke-width="1.65"/>
<line x1="1064.5" y1="823.7" x2="1064.5" y2="957.3" stroke="#000" stroke-width="1.65"/>
<line x1="1202.5" y1="823.7" x2="1202.5" y2="957.3" stroke="#000" stroke-width="1.65"/>
<line x1="1221.5" y1="823.7" x2="1221.5" y2="957.3" stroke="#000" stroke-width="1.65"/>
<line x1="1250.5" y1="823.7" x2="1250.5" y2="957.3" stroke="#000" stroke-width="1.65"/>
<line x1="1288.5" y1="823.7" x2="1288.5" y2="957.3" stroke="#000" stroke-width="1.65"/>
<line x1="1311.5" y1="823.7" x2="1311.5" y2="957.3" stroke="#000" stroke-width="1.65"/>
<line x1="1024.4" y1="824.5" x2="1311.4" y2="824.5" stroke="#000" stroke-width="1.65"/>
<line x1="1024.4" y1="843.5" x2="1311.4" y2="843.5" stroke="#000" stroke-width="1.65"/>
<line x1="1024.4" y1="894.5" x2="1311.4" y2="894.5" stroke="#000" stroke-width="1.65"/>
<line x1="1024.4" y1="919.5" x2="1311.4" y2="919.5" stroke="#000" stroke-width="1.65"/>
<line x1="1024.4" y1="944.5" x2="1311.4" y2="944.5" stroke="#000" stroke-width="1.65"/>
<line x1="1024.4" y1="956.5" x2="1311.4" y2="956.5" stroke="#000" stroke-width="1.65"/>
<text x="1035" y="837.24" font-family="&quot;Liberation Sans&quot;, &quot;Noto Sans CJK SC&quot;, sans-serif" font-size="9" font-weight="900" textLength="17" lengthAdjust="spacingAndGlyphs">名称</text>
<text x="1100.9" y="836.82" font-family="&quot;Liberation Sans&quot;, &quot;Noto Sans CJK SC&quot;, sans-serif" font-size="8.4" font-weight="900" textLength="7.2" lengthAdjust="spacingAndGlyphs">型</text>
<text x="1114.5" y="836.82" font-family="&quot;Liberation Sans&quot;, &quot;Noto Sans CJK SC&quot;, sans-serif" font-size="8.4" font-weight="900" textLength="7.2" lengthAdjust="spacingAndGlyphs">号</text>
<text x="1128.1" y="836.82" font-family="&quot;Liberation Sans&quot;, &quot;Noto Sans CJK SC&quot;, sans-serif" font-size="8.4" font-weight="900" textLength="7.2" lengthAdjust="spacingAndGlyphs">及</text>
<text x="1141.7" y="836.82" font-family="&quot;Liberation Sans&quot;, &quot;Noto Sans CJK SC&quot;, sans-serif" font-size="8.4" font-weight="900" textLength="7.2" lengthAdjust="spacingAndGlyphs">规</text>
<text x="1155.3" y="836.82" font-family="&quot;Liberation Sans&quot;, &quot;Noto Sans CJK SC&quot;, sans-serif" font-size="8.4" font-weight="900" textLength="7.2" lengthAdjust="spacingAndGlyphs">格</text>
<text x="1204.2" y="836.82" font-family="&quot;Liberation Sans&quot;, &quot;Noto Sans CJK SC&quot;, sans-serif" font-size="8.4" font-weight="900" textLength="15.6" lengthAdjust="spacingAndGlyphs">单位</text>
<text x="1228" y="836.82" font-family="&quot;Liberation Sans&quot;, &quot;Noto Sans CJK SC&quot;, sans-serif" font-size="8.4" font-weight="900" textLength="16" lengthAdjust="spacingAndGlyphs">数量</text>
<text x="1261.5" y="836.82" font-family="&quot;Liberation Sans&quot;, &quot;Noto Sans CJK SC&quot;, sans-serif" font-size="8.4" font-weight="900" textLength="16" lengthAdjust="spacingAndGlyphs">重量</text>
<text x="1292" y="836.82" font-family="&quot;Liberation Sans&quot;, &quot;Noto Sans CJK SC&quot;, sans-serif" font-size="8.4" font-weight="900" textLength="16" lengthAdjust="spacingAndGlyphs">备注</text>
<text x="1029" y="874.07" font-family="&quot;Liberation Sans&quot;, &quot;Noto Sans CJK SC&quot;, sans-serif" font-size="10.2" font-weight="900" textLength="32" lengthAdjust="spacingAndGlyphs">热镀锌钢管</text>
<text x="1078" y="867.5" font-family="&quot;Liberation Sans&quot;, sans-serif" font-size="12.77" textLength="52" lengthAdjust="spacingAndGlyphs" stroke="#000" stroke-width="0.42">δ=3.5 ø50</text>
<text x="1082.4" y="882.5" font-family="&quot;Liberation Sans&quot;, sans-serif" font-size="12.77" textLength="47.6" lengthAdjust="spacingAndGlyphs" stroke="#000" stroke-width="0.42">4.88kg/m</text>
<text x="1138.6" y="854.6" font-family="&quot;Liberation Sans&quot;, sans-serif" font-size="12.77" textLength="65.4" lengthAdjust="spacingAndGlyphs" stroke="#000" stroke-width="0.42">3.40X62.65X2</text>
<text x="1138.6" y="867.8" font-family="&quot;Liberation Sans&quot;, sans-serif" font-size="12.77" textLength="65.4" lengthAdjust="spacingAndGlyphs" stroke="#000" stroke-width="0.42">2.35X80.70X2</text>
<text x="1138.6" y="880.6" font-family="&quot;Liberation Sans&quot;, sans-serif" font-size="12.77" textLength="64.4" lengthAdjust="spacingAndGlyphs" stroke="#000" stroke-width="0.42">1.43X71.53X2</text>
<text x="1138.6" y="892.6" font-family="&quot;Liberation Sans&quot;, sans-serif" font-size="12.77" textLength="32.4" lengthAdjust="spacingAndGlyphs" stroke="#000" stroke-width="0.42">1.30X2</text>
<text x="1206.9" y="873.02" font-family="&quot;Liberation Sans&quot;, &quot;Noto Sans CJK SC&quot;, sans-serif" font-size="8.4" font-weight="900" textLength="7" lengthAdjust="spacingAndGlyphs">米</text>
<text x="1227.6" y="874.6" font-family="&quot;Liberation Sans&quot;, sans-serif" font-size="12.77" textLength="12.4" lengthAdjust="spacingAndGlyphs" stroke="#000" stroke-width="0.42">62</text>
<text x="1255" y="874.6" font-family="&quot;Liberation Sans&quot;, sans-serif" font-size="12.77" textLength="28" lengthAdjust="spacingAndGlyphs" stroke="#000" stroke-width="0.42">303kg</text>
<text x="1029" y="911.07" font-family="&quot;Liberation Sans&quot;, &quot;Noto Sans CJK SC&quot;, sans-serif" font-size="10.2" font-weight="900" textLength="32" lengthAdjust="spacingAndGlyphs">热镀锌钢管</text>
<text x="1066.4" y="911" font-family="&quot;Liberation Sans&quot;, sans-serif" font-size="12.77" textLength="48.1" lengthAdjust="spacingAndGlyphs" stroke="#000" stroke-width="0.42">δ=3.25ø32</text>
<text x="1113.5" y="911" font-family="&quot;Liberation Sans&quot;, sans-serif" font-size="12.77" textLength="47" lengthAdjust="spacingAndGlyphs" stroke="#000" stroke-width="0.42">3.13kg/m</text>
<text x="1159.5" y="911" font-family="&quot;Liberation Sans&quot;, sans-serif" font-size="12.77" textLength="42.5" lengthAdjust="spacingAndGlyphs" stroke="#000" stroke-width="0.42">1.20X147</text>
<text x="1206.9" y="910.02" font-family="&quot;Liberation Sans&quot;, &quot;Noto Sans CJK SC&quot;, sans-serif" font-size="8.4" font-weight="900" textLength="7" lengthAdjust="spacingAndGlyphs">米</text>
<text x="1227.6" y="911.4" font-family="&quot;Liberation Sans&quot;, sans-serif" font-size="12.77" textLength="16.4" lengthAdjust="spacingAndGlyphs" stroke="#000" stroke-width="0.42">177</text>
<text x="1255" y="911.4" font-family="&quot;Liberation Sans&quot;, sans-serif" font-size="12.77" textLength="28" lengthAdjust="spacingAndGlyphs" stroke="#000" stroke-width="0.42">554kg</text>
<text x="1035.9" y="935.02" font-family="&quot;Liberation Sans&quot;, &quot;Noto Sans CJK SC&quot;, sans-serif" font-size="8.4" font-weight="900" textLength="17" lengthAdjust="spacingAndGlyphs">钢板</text>
<text x="1126" y="929.4" font-family="&quot;Liberation Sans&quot;, sans-serif" font-size="12.77" textLength="53.6" lengthAdjust="spacingAndGlyphs" stroke="#000" stroke-width="0.42">640X100X2</text>
<text x="1126" y="943" font-family="&quot;Liberation Sans&quot;, sans-serif" font-size="12.77" textLength="51" lengthAdjust="spacingAndGlyphs" stroke="#000" stroke-width="0.42">180X180X6</text>
<text x="1206.9" y="935.02" font-family="&quot;Liberation Sans&quot;, &quot;Noto Sans CJK SC&quot;, sans-serif" font-size="8.4" font-weight="900" textLength="7" lengthAdjust="spacingAndGlyphs">块</text>
<text x="1231.6" y="929" font-family="&quot;Liberation Sans&quot;, sans-serif" font-size="12.77" textLength="4.4" lengthAdjust="spacingAndGlyphs" stroke="#000" stroke-width="0.42">1</text>
<text x="1231.3" y="943.4" font-family="&quot;Liberation Sans&quot;, sans-serif" font-size="12.77" textLength="5.7" lengthAdjust="spacingAndGlyphs" stroke="#000" stroke-width="0.42">9</text>
<text x="1255" y="936.6" font-family="&quot;Liberation Sans&quot;, sans-serif" font-size="12.77" textLength="21.6" lengthAdjust="spacingAndGlyphs" stroke="#000" stroke-width="0.42">15kg</text>
<text x="1035.9" y="954.02" font-family="&quot;Liberation Sans&quot;, &quot;Noto Sans CJK SC&quot;, sans-serif" font-size="8.4" font-weight="900" textLength="17" lengthAdjust="spacingAndGlyphs">钢筋</text>
<text x="1110" y="955" font-family="&quot;Liberation Sans&quot;, sans-serif" font-size="12.77" textLength="42.4" lengthAdjust="spacingAndGlyphs" stroke="#000" stroke-width="0.42">&amp;16X810</text>
<text x="1176" y="955" font-family="&quot;Liberation Sans&quot;, sans-serif" font-size="12.77" textLength="45" lengthAdjust="spacingAndGlyphs" stroke="#000" stroke-width="0.42">1.58kg/m</text>
<text x="1205.5" y="954.02" font-family="&quot;Liberation Sans&quot;, &quot;Noto Sans CJK SC&quot;, sans-serif" font-size="8.4" font-weight="900" textLength="7" lengthAdjust="spacingAndGlyphs">米</text>
<text x="1227.6" y="955" font-family="&quot;Liberation Sans&quot;, sans-serif" font-size="12.77" textLength="11" lengthAdjust="spacingAndGlyphs" stroke="#000" stroke-width="0.42">18</text>
<text x="1255" y="955" font-family="&quot;Liberation Sans&quot;, sans-serif" font-size="12.77" textLength="22" lengthAdjust="spacingAndGlyphs" stroke="#000" stroke-width="0.42">29kg</text>
<text x="1289.85" y="953.81" font-family="&quot;Liberation Sans&quot;, &quot;Noto Sans CJK SC&quot;, sans-serif" font-size="7.8" font-weight="900" textLength="19.5" lengthAdjust="spacingAndGlyphs">螺纹钢</text>
</g>
<text x="1475.8" y="1011.7" font-family="&quot;Liberation Sans&quot;, sans-serif" font-size="10.2" font-weight="700" textLength="25" lengthAdjust="spacingAndGlyphs">DQ-25</text>
<g id="logo" fill="#fff" stroke="#8f8f8f" stroke-width="0.9" paint-order="stroke fill">
<text x="1407" y="1054" font-family="&quot;Liberation Sans&quot;, &quot;Noto Sans CJK SC&quot;, sans-serif" font-size="60" textLength="123" lengthAdjust="spacingAndGlyphs" font-weight="700">知末</text>
<text stroke="#7a7a7a" stroke-width="1.1" x="1361" y="1102.8" font-family="&quot;Liberation Sans&quot;, sans-serif" font-size="31.4" textLength="227" lengthAdjust="spacingAndGlyphs" font-weight="700">ID: 1207121070</text>
</g>
</svg>
</body></html>
